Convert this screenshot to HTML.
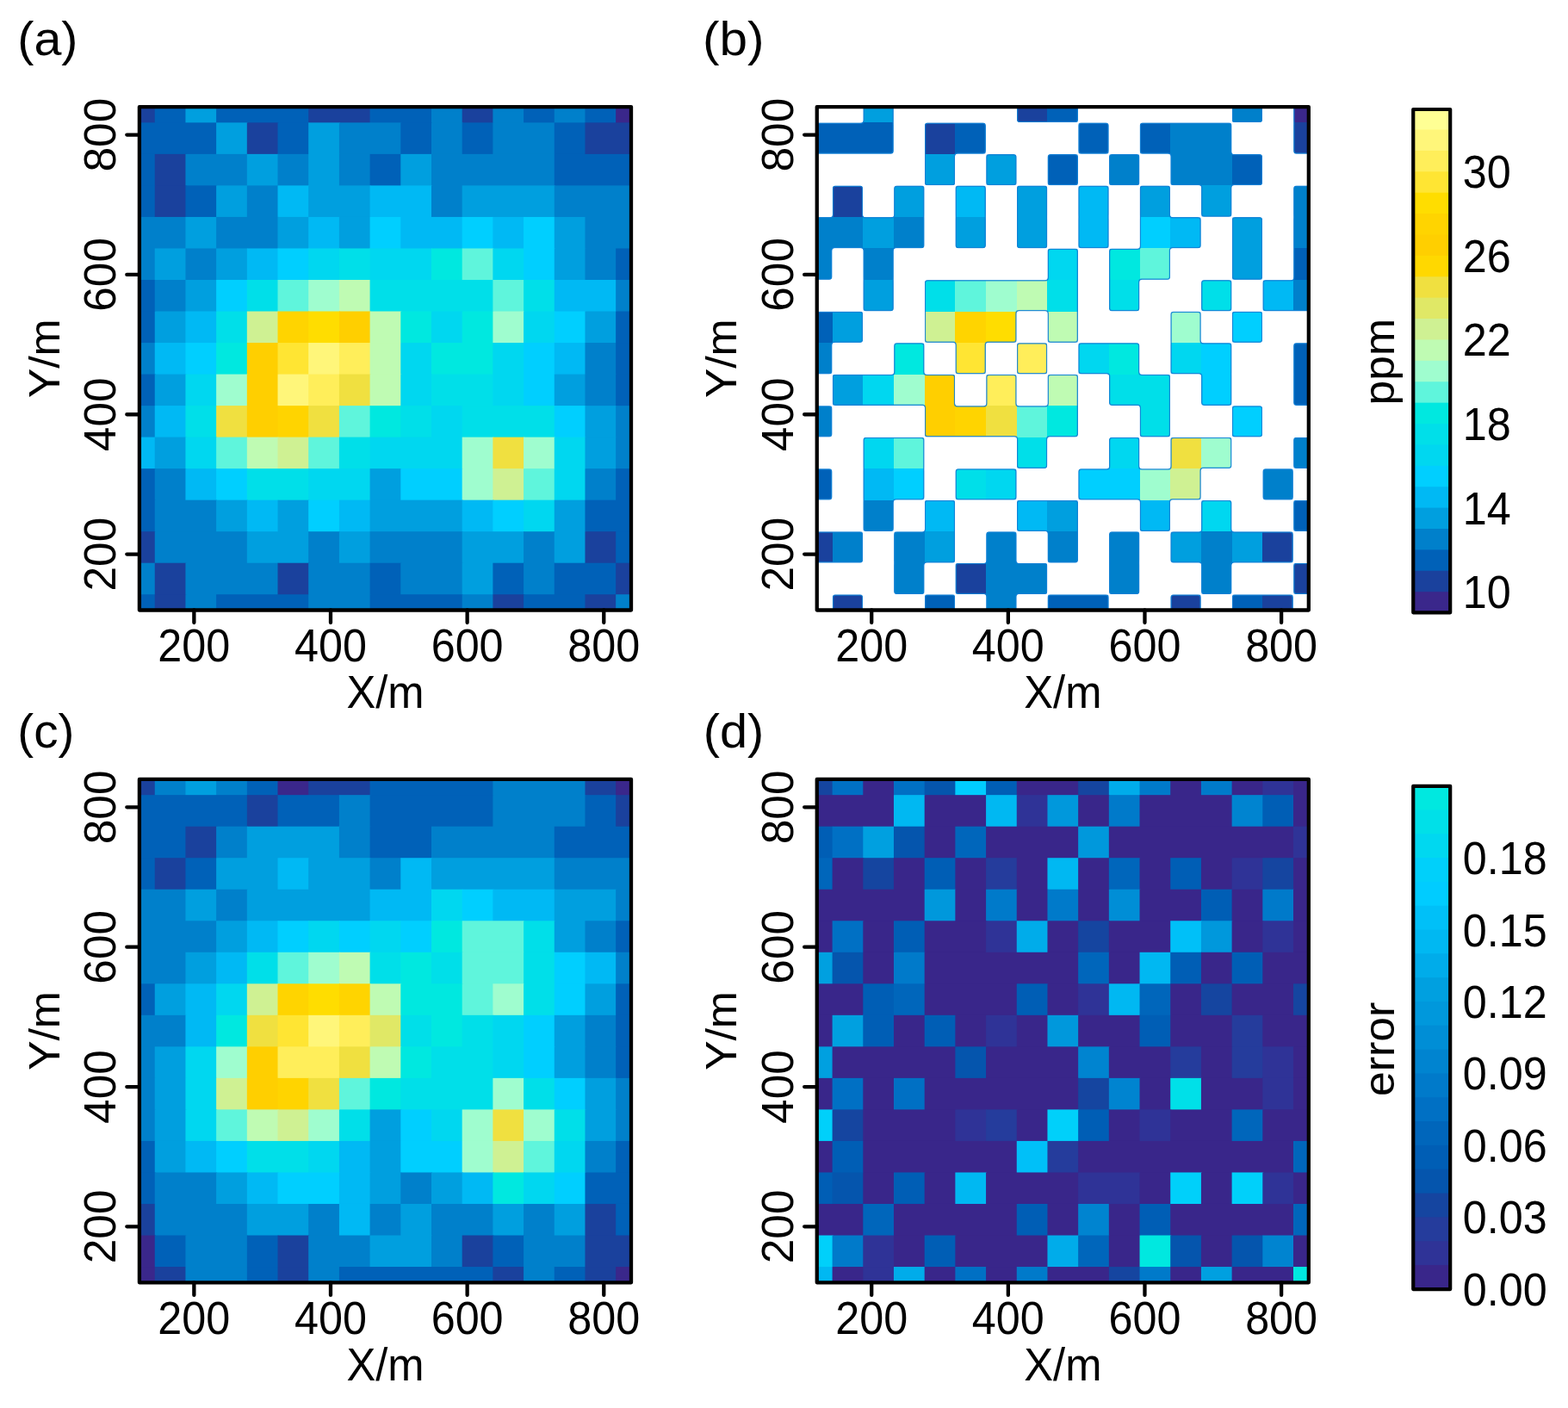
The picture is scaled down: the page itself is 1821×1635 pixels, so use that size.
<!DOCTYPE html>
<html lang="en">
<head>
<meta charset="utf-8">
<title>Interpolation comparison</title>
<style>
html,body{margin:0;padding:0;background:#fff;}
body{width:1821px;height:1635px;overflow:hidden;}
svg{display:block;}
svg text{font-family:"Liberation Sans", sans-serif;font-size:52px;fill:#000;}
</style>
</head>
<body>
<svg width="1821" height="1635" viewBox="0 0 1821 1635">
<rect width="1821" height="1635" fill="#fff"/>
<g id="panel-a"><g>
<rect x="161.9" y="124.1" width="18.85" height="19.26" fill="#1A419D"/>
<rect x="179.75" y="124.1" width="36.69" height="19.26" fill="#0061B8"/>
<rect x="215.44" y="124.1" width="36.69" height="19.26" fill="#009FDF"/>
<rect x="251.13" y="124.1" width="108.08" height="19.26" fill="#0061B8"/>
<rect x="358.22" y="124.1" width="72.39" height="19.26" fill="#1A419D"/>
<rect x="429.6" y="124.1" width="72.39" height="19.26" fill="#0061B8"/>
<rect x="500.99" y="124.1" width="36.69" height="19.26" fill="#0080CB"/>
<rect x="536.68" y="124.1" width="36.69" height="19.26" fill="#1A419D"/>
<rect x="572.38" y="124.1" width="36.69" height="19.26" fill="#0080CB"/>
<rect x="608.07" y="124.1" width="36.69" height="19.26" fill="#0061B8"/>
<rect x="643.77" y="124.1" width="36.69" height="19.26" fill="#0080CB"/>
<rect x="679.46" y="124.1" width="36.69" height="19.26" fill="#0061B8"/>
<rect x="715.15" y="124.1" width="18.85" height="19.26" fill="#3A278B"/>
<rect x="161.9" y="142.36" width="90.23" height="37.53" fill="#0061B8"/>
<rect x="251.13" y="142.36" width="36.69" height="37.53" fill="#009FDF"/>
<rect x="286.83" y="142.36" width="36.69" height="37.53" fill="#1A419D"/>
<rect x="322.52" y="142.36" width="36.69" height="37.53" fill="#0061B8"/>
<rect x="358.22" y="142.36" width="36.69" height="37.53" fill="#009FDF"/>
<rect x="393.91" y="142.36" width="72.39" height="37.53" fill="#0080CB"/>
<rect x="465.3" y="142.36" width="36.69" height="37.53" fill="#0061B8"/>
<rect x="500.99" y="142.36" width="36.69" height="37.53" fill="#0080CB"/>
<rect x="536.68" y="142.36" width="36.69" height="37.53" fill="#0061B8"/>
<rect x="572.38" y="142.36" width="72.39" height="37.53" fill="#0080CB"/>
<rect x="643.77" y="142.36" width="36.69" height="37.53" fill="#0061B8"/>
<rect x="679.46" y="142.36" width="54.54" height="37.53" fill="#1A419D"/>
<rect x="161.9" y="178.89" width="18.85" height="37.53" fill="#0061B8"/>
<rect x="179.75" y="178.89" width="36.69" height="37.53" fill="#1A419D"/>
<rect x="215.44" y="178.89" width="72.39" height="37.53" fill="#0080CB"/>
<rect x="286.83" y="178.89" width="36.69" height="37.53" fill="#009FDF"/>
<rect x="322.52" y="178.89" width="36.69" height="37.53" fill="#0080CB"/>
<rect x="358.22" y="178.89" width="36.69" height="37.53" fill="#009FDF"/>
<rect x="393.91" y="178.89" width="36.69" height="37.53" fill="#0080CB"/>
<rect x="429.6" y="178.89" width="36.69" height="37.53" fill="#0061B8"/>
<rect x="465.3" y="178.89" width="36.69" height="37.53" fill="#009FDF"/>
<rect x="500.99" y="178.89" width="143.77" height="37.53" fill="#0080CB"/>
<rect x="643.77" y="178.89" width="90.23" height="37.53" fill="#0061B8"/>
<rect x="161.9" y="215.41" width="18.85" height="37.53" fill="#0061B8"/>
<rect x="179.75" y="215.41" width="36.69" height="37.53" fill="#1A419D"/>
<rect x="215.44" y="215.41" width="36.69" height="37.53" fill="#0061B8"/>
<rect x="251.13" y="215.41" width="36.69" height="37.53" fill="#009FDF"/>
<rect x="286.83" y="215.41" width="36.69" height="37.53" fill="#0080CB"/>
<rect x="322.52" y="215.41" width="36.69" height="37.53" fill="#00B9F4"/>
<rect x="358.22" y="215.41" width="72.39" height="37.53" fill="#009FDF"/>
<rect x="429.6" y="215.41" width="72.39" height="37.53" fill="#00B9F4"/>
<rect x="500.99" y="215.41" width="36.69" height="37.53" fill="#0080CB"/>
<rect x="536.68" y="215.41" width="108.08" height="37.53" fill="#009FDF"/>
<rect x="643.77" y="215.41" width="90.23" height="37.53" fill="#0080CB"/>
<rect x="161.9" y="251.94" width="54.54" height="37.52" fill="#0080CB"/>
<rect x="215.44" y="251.94" width="36.69" height="37.52" fill="#009FDF"/>
<rect x="251.13" y="251.94" width="72.39" height="37.52" fill="#0080CB"/>
<rect x="322.52" y="251.94" width="36.69" height="37.52" fill="#009FDF"/>
<rect x="358.22" y="251.94" width="36.69" height="37.52" fill="#00B9F4"/>
<rect x="393.91" y="251.94" width="36.69" height="37.52" fill="#009FDF"/>
<rect x="429.6" y="251.94" width="36.69" height="37.52" fill="#00CFFF"/>
<rect x="465.3" y="251.94" width="72.39" height="37.52" fill="#00B9F4"/>
<rect x="536.68" y="251.94" width="36.69" height="37.52" fill="#00CFFF"/>
<rect x="572.38" y="251.94" width="36.69" height="37.52" fill="#00B9F4"/>
<rect x="608.07" y="251.94" width="36.69" height="37.52" fill="#00CFFF"/>
<rect x="643.77" y="251.94" width="36.69" height="37.52" fill="#009FDF"/>
<rect x="679.46" y="251.94" width="54.54" height="37.52" fill="#0080CB"/>
<rect x="161.9" y="288.46" width="18.85" height="37.52" fill="#0080CB"/>
<rect x="179.75" y="288.46" width="36.69" height="37.52" fill="#009FDF"/>
<rect x="215.44" y="288.46" width="36.69" height="37.52" fill="#0080CB"/>
<rect x="251.13" y="288.46" width="36.69" height="37.52" fill="#009FDF"/>
<rect x="286.83" y="288.46" width="36.69" height="37.52" fill="#00B9F4"/>
<rect x="322.52" y="288.46" width="36.69" height="37.52" fill="#00CFFF"/>
<rect x="358.22" y="288.46" width="36.69" height="37.52" fill="#00D7F0"/>
<rect x="393.91" y="288.46" width="36.69" height="37.52" fill="#00DFE9"/>
<rect x="429.6" y="288.46" width="72.39" height="37.52" fill="#00D7F0"/>
<rect x="500.99" y="288.46" width="36.69" height="37.52" fill="#00E8E0"/>
<rect x="536.68" y="288.46" width="36.69" height="37.52" fill="#5FF5DC"/>
<rect x="572.38" y="288.46" width="36.69" height="37.52" fill="#00D7F0"/>
<rect x="608.07" y="288.46" width="36.69" height="37.52" fill="#00CFFF"/>
<rect x="643.77" y="288.46" width="36.69" height="37.52" fill="#009FDF"/>
<rect x="679.46" y="288.46" width="36.69" height="37.52" fill="#0080CB"/>
<rect x="715.15" y="288.46" width="18.85" height="37.52" fill="#0061B8"/>
<rect x="161.9" y="324.99" width="18.85" height="37.53" fill="#0061B8"/>
<rect x="179.75" y="324.99" width="36.69" height="37.53" fill="#0080CB"/>
<rect x="215.44" y="324.99" width="36.69" height="37.53" fill="#009FDF"/>
<rect x="251.13" y="324.99" width="36.69" height="37.53" fill="#00CFFF"/>
<rect x="286.83" y="324.99" width="36.69" height="37.53" fill="#00DFE9"/>
<rect x="322.52" y="324.99" width="36.69" height="37.53" fill="#5FF5DC"/>
<rect x="358.22" y="324.99" width="36.69" height="37.53" fill="#9FFDCF"/>
<rect x="393.91" y="324.99" width="36.69" height="37.53" fill="#BFFBB3"/>
<rect x="429.6" y="324.99" width="143.77" height="37.53" fill="#00DFE9"/>
<rect x="572.38" y="324.99" width="36.69" height="37.53" fill="#5FF5DC"/>
<rect x="608.07" y="324.99" width="36.69" height="37.53" fill="#00DFE9"/>
<rect x="643.77" y="324.99" width="72.39" height="37.53" fill="#00B9F4"/>
<rect x="715.15" y="324.99" width="18.85" height="37.53" fill="#0080CB"/>
<rect x="161.9" y="361.51" width="18.85" height="37.53" fill="#0061B8"/>
<rect x="179.75" y="361.51" width="36.69" height="37.53" fill="#009FDF"/>
<rect x="215.44" y="361.51" width="36.69" height="37.53" fill="#00B9F4"/>
<rect x="251.13" y="361.51" width="36.69" height="37.53" fill="#00DFE9"/>
<rect x="286.83" y="361.51" width="36.69" height="37.53" fill="#CFF193"/>
<rect x="322.52" y="361.51" width="36.69" height="37.53" fill="#FFD400"/>
<rect x="358.22" y="361.51" width="36.69" height="37.53" fill="#FFDD00"/>
<rect x="393.91" y="361.51" width="36.69" height="37.53" fill="#FFCF00"/>
<rect x="429.6" y="361.51" width="36.69" height="37.53" fill="#BFFBB3"/>
<rect x="465.3" y="361.51" width="36.69" height="37.53" fill="#00E8E0"/>
<rect x="500.99" y="361.51" width="36.69" height="37.53" fill="#00D7F0"/>
<rect x="536.68" y="361.51" width="36.69" height="37.53" fill="#00E8E0"/>
<rect x="572.38" y="361.51" width="36.69" height="37.53" fill="#9FFDCF"/>
<rect x="608.07" y="361.51" width="36.69" height="37.53" fill="#00D7F0"/>
<rect x="643.77" y="361.51" width="36.69" height="37.53" fill="#00CFFF"/>
<rect x="679.46" y="361.51" width="36.69" height="37.53" fill="#009FDF"/>
<rect x="715.15" y="361.51" width="18.85" height="37.53" fill="#0061B8"/>
<rect x="161.9" y="398.04" width="18.85" height="37.52" fill="#0080CB"/>
<rect x="179.75" y="398.04" width="36.69" height="37.52" fill="#00B9F4"/>
<rect x="215.44" y="398.04" width="36.69" height="37.52" fill="#00CFFF"/>
<rect x="251.13" y="398.04" width="36.69" height="37.52" fill="#00E8E0"/>
<rect x="286.83" y="398.04" width="36.69" height="37.52" fill="#FFCF00"/>
<rect x="322.52" y="398.04" width="36.69" height="37.52" fill="#FFE533"/>
<rect x="358.22" y="398.04" width="36.69" height="37.52" fill="#FFF67A"/>
<rect x="393.91" y="398.04" width="36.69" height="37.52" fill="#FFEE5A"/>
<rect x="429.6" y="398.04" width="36.69" height="37.52" fill="#BFFBB3"/>
<rect x="465.3" y="398.04" width="36.69" height="37.52" fill="#00D7F0"/>
<rect x="500.99" y="398.04" width="72.39" height="37.52" fill="#00E8E0"/>
<rect x="572.38" y="398.04" width="36.69" height="37.52" fill="#00D7F0"/>
<rect x="608.07" y="398.04" width="36.69" height="37.52" fill="#00CFFF"/>
<rect x="643.77" y="398.04" width="36.69" height="37.52" fill="#00B9F4"/>
<rect x="679.46" y="398.04" width="36.69" height="37.52" fill="#0080CB"/>
<rect x="715.15" y="398.04" width="18.85" height="37.52" fill="#0061B8"/>
<rect x="161.9" y="434.56" width="18.85" height="37.52" fill="#0061B8"/>
<rect x="179.75" y="434.56" width="36.69" height="37.52" fill="#009FDF"/>
<rect x="215.44" y="434.56" width="36.69" height="37.52" fill="#00D7F0"/>
<rect x="251.13" y="434.56" width="36.69" height="37.52" fill="#9FFDCF"/>
<rect x="286.83" y="434.56" width="36.69" height="37.52" fill="#FFCF00"/>
<rect x="322.52" y="434.56" width="36.69" height="37.52" fill="#FFF67A"/>
<rect x="358.22" y="434.56" width="36.69" height="37.52" fill="#FFEE5A"/>
<rect x="393.91" y="434.56" width="36.69" height="37.52" fill="#F0E040"/>
<rect x="429.6" y="434.56" width="36.69" height="37.52" fill="#BFFBB3"/>
<rect x="465.3" y="434.56" width="36.69" height="37.52" fill="#00D7F0"/>
<rect x="500.99" y="434.56" width="72.39" height="37.52" fill="#00DFE9"/>
<rect x="572.38" y="434.56" width="36.69" height="37.52" fill="#00D7F0"/>
<rect x="608.07" y="434.56" width="36.69" height="37.52" fill="#00CFFF"/>
<rect x="643.77" y="434.56" width="36.69" height="37.52" fill="#009FDF"/>
<rect x="679.46" y="434.56" width="36.69" height="37.52" fill="#0080CB"/>
<rect x="715.15" y="434.56" width="18.85" height="37.52" fill="#0061B8"/>
<rect x="161.9" y="471.09" width="18.85" height="37.52" fill="#0080CB"/>
<rect x="179.75" y="471.09" width="36.69" height="37.52" fill="#00B9F4"/>
<rect x="215.44" y="471.09" width="36.69" height="37.52" fill="#00DFE9"/>
<rect x="251.13" y="471.09" width="36.69" height="37.52" fill="#F0E040"/>
<rect x="286.83" y="471.09" width="36.69" height="37.52" fill="#FFCF00"/>
<rect x="322.52" y="471.09" width="36.69" height="37.52" fill="#FFD400"/>
<rect x="358.22" y="471.09" width="36.69" height="37.52" fill="#F0E040"/>
<rect x="393.91" y="471.09" width="36.69" height="37.52" fill="#5FF5DC"/>
<rect x="429.6" y="471.09" width="36.69" height="37.52" fill="#00E8E0"/>
<rect x="465.3" y="471.09" width="36.69" height="37.52" fill="#00DFE9"/>
<rect x="500.99" y="471.09" width="36.69" height="37.52" fill="#00D7F0"/>
<rect x="536.68" y="471.09" width="108.08" height="37.52" fill="#00DFE9"/>
<rect x="643.77" y="471.09" width="36.69" height="37.52" fill="#00CFFF"/>
<rect x="679.46" y="471.09" width="36.69" height="37.52" fill="#009FDF"/>
<rect x="715.15" y="471.09" width="18.85" height="37.52" fill="#0080CB"/>
<rect x="161.9" y="507.61" width="18.85" height="37.52" fill="#00B9F4"/>
<rect x="179.75" y="507.61" width="36.69" height="37.52" fill="#009FDF"/>
<rect x="215.44" y="507.61" width="36.69" height="37.52" fill="#00D7F0"/>
<rect x="251.13" y="507.61" width="36.69" height="37.52" fill="#5FF5DC"/>
<rect x="286.83" y="507.61" width="36.69" height="37.52" fill="#BFFBB3"/>
<rect x="322.52" y="507.61" width="36.69" height="37.52" fill="#CFF193"/>
<rect x="358.22" y="507.61" width="36.69" height="37.52" fill="#5FF5DC"/>
<rect x="393.91" y="507.61" width="36.69" height="37.52" fill="#00DFE9"/>
<rect x="429.6" y="507.61" width="108.08" height="37.52" fill="#00D7F0"/>
<rect x="536.68" y="507.61" width="36.69" height="37.52" fill="#9FFDCF"/>
<rect x="572.38" y="507.61" width="36.69" height="37.52" fill="#F0E040"/>
<rect x="608.07" y="507.61" width="36.69" height="37.52" fill="#9FFDCF"/>
<rect x="643.77" y="507.61" width="36.69" height="37.52" fill="#00D7F0"/>
<rect x="679.46" y="507.61" width="36.69" height="37.52" fill="#009FDF"/>
<rect x="715.15" y="507.61" width="18.85" height="37.52" fill="#0080CB"/>
<rect x="161.9" y="544.14" width="18.85" height="37.53" fill="#0061B8"/>
<rect x="179.75" y="544.14" width="36.69" height="37.53" fill="#0080CB"/>
<rect x="215.44" y="544.14" width="36.69" height="37.53" fill="#00B9F4"/>
<rect x="251.13" y="544.14" width="36.69" height="37.53" fill="#00CFFF"/>
<rect x="286.83" y="544.14" width="72.39" height="37.53" fill="#00DFE9"/>
<rect x="358.22" y="544.14" width="72.39" height="37.53" fill="#00D7F0"/>
<rect x="429.6" y="544.14" width="36.69" height="37.53" fill="#009FDF"/>
<rect x="465.3" y="544.14" width="72.39" height="37.53" fill="#00CFFF"/>
<rect x="536.68" y="544.14" width="36.69" height="37.53" fill="#9FFDCF"/>
<rect x="572.38" y="544.14" width="36.69" height="37.53" fill="#CFF193"/>
<rect x="608.07" y="544.14" width="36.69" height="37.53" fill="#5FF5DC"/>
<rect x="643.77" y="544.14" width="36.69" height="37.53" fill="#00D7F0"/>
<rect x="679.46" y="544.14" width="36.69" height="37.53" fill="#0080CB"/>
<rect x="715.15" y="544.14" width="18.85" height="37.53" fill="#0061B8"/>
<rect x="161.9" y="580.66" width="18.85" height="37.52" fill="#0061B8"/>
<rect x="179.75" y="580.66" width="72.39" height="37.52" fill="#0080CB"/>
<rect x="251.13" y="580.66" width="36.69" height="37.52" fill="#009FDF"/>
<rect x="286.83" y="580.66" width="36.69" height="37.52" fill="#00B9F4"/>
<rect x="322.52" y="580.66" width="36.69" height="37.52" fill="#009FDF"/>
<rect x="358.22" y="580.66" width="36.69" height="37.52" fill="#00CFFF"/>
<rect x="393.91" y="580.66" width="36.69" height="37.52" fill="#00B9F4"/>
<rect x="429.6" y="580.66" width="108.08" height="37.52" fill="#009FDF"/>
<rect x="536.68" y="580.66" width="36.69" height="37.52" fill="#00B9F4"/>
<rect x="572.38" y="580.66" width="36.69" height="37.52" fill="#00CFFF"/>
<rect x="608.07" y="580.66" width="36.69" height="37.52" fill="#00D7F0"/>
<rect x="643.77" y="580.66" width="36.69" height="37.52" fill="#009FDF"/>
<rect x="679.46" y="580.66" width="54.54" height="37.52" fill="#0061B8"/>
<rect x="161.9" y="617.19" width="18.85" height="37.52" fill="#1A419D"/>
<rect x="179.75" y="617.19" width="108.08" height="37.52" fill="#0080CB"/>
<rect x="286.83" y="617.19" width="72.39" height="37.52" fill="#009FDF"/>
<rect x="358.22" y="617.19" width="36.69" height="37.52" fill="#0080CB"/>
<rect x="393.91" y="617.19" width="36.69" height="37.52" fill="#009FDF"/>
<rect x="429.6" y="617.19" width="108.08" height="37.52" fill="#0080CB"/>
<rect x="536.68" y="617.19" width="72.39" height="37.52" fill="#009FDF"/>
<rect x="608.07" y="617.19" width="36.69" height="37.52" fill="#0080CB"/>
<rect x="643.77" y="617.19" width="36.69" height="37.52" fill="#009FDF"/>
<rect x="679.46" y="617.19" width="36.69" height="37.52" fill="#1A419D"/>
<rect x="715.15" y="617.19" width="18.85" height="37.52" fill="#0061B8"/>
<rect x="161.9" y="653.71" width="18.85" height="37.52" fill="#0080CB"/>
<rect x="179.75" y="653.71" width="36.69" height="37.52" fill="#1A419D"/>
<rect x="215.44" y="653.71" width="108.08" height="37.52" fill="#0080CB"/>
<rect x="322.52" y="653.71" width="36.69" height="37.52" fill="#1A419D"/>
<rect x="358.22" y="653.71" width="72.39" height="37.52" fill="#0080CB"/>
<rect x="429.6" y="653.71" width="36.69" height="37.52" fill="#0061B8"/>
<rect x="465.3" y="653.71" width="72.39" height="37.52" fill="#0080CB"/>
<rect x="536.68" y="653.71" width="36.69" height="37.52" fill="#009FDF"/>
<rect x="572.38" y="653.71" width="36.69" height="37.52" fill="#0061B8"/>
<rect x="608.07" y="653.71" width="36.69" height="37.52" fill="#0080CB"/>
<rect x="643.77" y="653.71" width="72.39" height="37.52" fill="#0061B8"/>
<rect x="715.15" y="653.71" width="18.85" height="37.52" fill="#1A419D"/>
<rect x="161.9" y="690.24" width="18.85" height="19.26" fill="#0061B8"/>
<rect x="179.75" y="690.24" width="36.69" height="19.26" fill="#1A419D"/>
<rect x="215.44" y="690.24" width="36.69" height="19.26" fill="#0080CB"/>
<rect x="251.13" y="690.24" width="108.08" height="19.26" fill="#0061B8"/>
<rect x="358.22" y="690.24" width="72.39" height="19.26" fill="#0080CB"/>
<rect x="429.6" y="690.24" width="108.08" height="19.26" fill="#0061B8"/>
<rect x="536.68" y="690.24" width="36.69" height="19.26" fill="#0080CB"/>
<rect x="572.38" y="690.24" width="36.69" height="19.26" fill="#1A419D"/>
<rect x="608.07" y="690.24" width="72.39" height="19.26" fill="#0061B8"/>
<rect x="679.46" y="690.24" width="36.69" height="19.26" fill="#1A419D"/>
<rect x="715.15" y="690.24" width="18.85" height="19.26" fill="#0080CB"/>
</g>
<path d="M225.36 708.5 v14.6 M383.99 708.5 v14.6 M542.63 708.5 v14.6 M701.27 708.5 v14.6 M161.9 643.57 h-14.6 M161.9 481.23 h-14.6 M161.9 318.9 h-14.6 M161.9 156.57 h-14.6" stroke="#000" stroke-width="4.3" stroke-linecap="round" fill="none"/>
<rect x="161.9" y="124.1" width="571.1" height="584.4" fill="none" stroke="#000" stroke-width="4.3" stroke-linejoin="round"/>
<text transform="translate(225.36 768.1) scale(0.968 1.045)" text-anchor="middle">200</text>
<text transform="translate(383.99 768.1) scale(0.968 1.045)" text-anchor="middle">400</text>
<text transform="translate(542.63 768.1) scale(0.968 1.045)" text-anchor="middle">600</text>
<text transform="translate(701.27 768.1) scale(0.968 1.045)" text-anchor="middle">800</text>
<text transform="translate(133.9 643.57) rotate(-90) scale(0.990 1.000)" text-anchor="middle">200</text>
<text transform="translate(133.9 481.23) rotate(-90) scale(0.990 1.000)" text-anchor="middle">400</text>
<text transform="translate(133.9 318.9) rotate(-90) scale(0.990 1.000)" text-anchor="middle">600</text>
<text transform="translate(133.9 156.57) rotate(-90) scale(0.990 1.000)" text-anchor="middle">800</text>
<text transform="translate(447.45 822.1) scale(0.975 1.030)" text-anchor="middle">X/m</text>
<text transform="translate(68.5 416.3) rotate(-90) scale(0.995 0.965)" text-anchor="middle">Y/m</text></g>
<g id="panel-b"><g shape-rendering="crispEdges">
<rect x="1002.29" y="124.1" width="36.09" height="18.66" fill="#009FDF"/>
<rect x="1180.76" y="124.1" width="36.09" height="18.66" fill="#1A419D"/>
<rect x="1216.45" y="124.1" width="36.09" height="18.66" fill="#0061B8"/>
<rect x="1430.62" y="124.1" width="36.09" height="18.66" fill="#0080CB"/>
<rect x="1502" y="124.1" width="18.25" height="18.66" fill="#3A278B"/>
<rect x="948.75" y="142.36" width="89.63" height="36.93" fill="#0061B8"/>
<rect x="1073.68" y="142.36" width="36.09" height="36.93" fill="#1A419D"/>
<rect x="1109.37" y="142.36" width="36.09" height="36.93" fill="#0061B8"/>
<rect x="1252.15" y="142.36" width="36.09" height="36.93" fill="#0061B8"/>
<rect x="1323.53" y="142.36" width="36.09" height="36.93" fill="#0061B8"/>
<rect x="1359.23" y="142.36" width="71.79" height="36.93" fill="#0080CB"/>
<rect x="1502" y="142.36" width="18.25" height="36.93" fill="#1A419D"/>
<rect x="1073.68" y="178.89" width="36.09" height="36.93" fill="#009FDF"/>
<rect x="1145.07" y="178.89" width="36.09" height="36.93" fill="#009FDF"/>
<rect x="1216.45" y="178.89" width="36.09" height="36.93" fill="#0061B8"/>
<rect x="1287.84" y="178.89" width="36.09" height="36.93" fill="#0080CB"/>
<rect x="1359.23" y="178.89" width="71.79" height="36.93" fill="#0080CB"/>
<rect x="1430.62" y="178.89" width="36.09" height="36.93" fill="#0061B8"/>
<rect x="966.6" y="215.41" width="36.09" height="36.93" fill="#1A419D"/>
<rect x="1037.98" y="215.41" width="36.09" height="36.93" fill="#009FDF"/>
<rect x="1109.37" y="215.41" width="36.09" height="36.93" fill="#00B9F4"/>
<rect x="1180.76" y="215.41" width="36.09" height="36.93" fill="#009FDF"/>
<rect x="1252.15" y="215.41" width="36.09" height="36.93" fill="#00B9F4"/>
<rect x="1323.53" y="215.41" width="36.09" height="36.93" fill="#009FDF"/>
<rect x="1394.92" y="215.41" width="36.09" height="36.93" fill="#009FDF"/>
<rect x="1502" y="215.41" width="18.25" height="36.93" fill="#0080CB"/>
<rect x="948.75" y="251.94" width="53.94" height="36.92" fill="#0080CB"/>
<rect x="1002.29" y="251.94" width="36.09" height="36.92" fill="#009FDF"/>
<rect x="1037.98" y="251.94" width="36.09" height="36.92" fill="#0080CB"/>
<rect x="1109.37" y="251.94" width="36.09" height="36.92" fill="#009FDF"/>
<rect x="1180.76" y="251.94" width="36.09" height="36.92" fill="#009FDF"/>
<rect x="1252.15" y="251.94" width="36.09" height="36.92" fill="#00B9F4"/>
<rect x="1323.53" y="251.94" width="36.09" height="36.92" fill="#00CFFF"/>
<rect x="1359.23" y="251.94" width="36.09" height="36.92" fill="#00B9F4"/>
<rect x="1430.62" y="251.94" width="36.09" height="36.92" fill="#009FDF"/>
<rect x="1502" y="251.94" width="18.25" height="36.92" fill="#0080CB"/>
<rect x="948.75" y="288.46" width="18.25" height="36.92" fill="#0080CB"/>
<rect x="1002.29" y="288.46" width="36.09" height="36.92" fill="#0080CB"/>
<rect x="1216.45" y="288.46" width="36.09" height="36.92" fill="#00D7F0"/>
<rect x="1287.84" y="288.46" width="36.09" height="36.92" fill="#00E8E0"/>
<rect x="1323.53" y="288.46" width="36.09" height="36.92" fill="#5FF5DC"/>
<rect x="1430.62" y="288.46" width="36.09" height="36.92" fill="#009FDF"/>
<rect x="1502" y="288.46" width="18.25" height="36.92" fill="#0061B8"/>
<rect x="1002.29" y="324.99" width="36.09" height="36.93" fill="#009FDF"/>
<rect x="1073.68" y="324.99" width="36.09" height="36.93" fill="#00DFE9"/>
<rect x="1109.37" y="324.99" width="36.09" height="36.93" fill="#5FF5DC"/>
<rect x="1145.07" y="324.99" width="36.09" height="36.93" fill="#9FFDCF"/>
<rect x="1180.76" y="324.99" width="36.09" height="36.93" fill="#BFFBB3"/>
<rect x="1216.45" y="324.99" width="36.09" height="36.93" fill="#00DFE9"/>
<rect x="1287.84" y="324.99" width="36.09" height="36.93" fill="#00DFE9"/>
<rect x="1394.92" y="324.99" width="36.09" height="36.93" fill="#00DFE9"/>
<rect x="1466.31" y="324.99" width="36.09" height="36.93" fill="#00B9F4"/>
<rect x="1502" y="324.99" width="18.25" height="36.93" fill="#0080CB"/>
<rect x="948.75" y="361.51" width="18.25" height="36.93" fill="#0061B8"/>
<rect x="966.6" y="361.51" width="36.09" height="36.93" fill="#009FDF"/>
<rect x="1073.68" y="361.51" width="36.09" height="36.93" fill="#CFF193"/>
<rect x="1109.37" y="361.51" width="36.09" height="36.93" fill="#FFD400"/>
<rect x="1145.07" y="361.51" width="36.09" height="36.93" fill="#FFDD00"/>
<rect x="1216.45" y="361.51" width="36.09" height="36.93" fill="#BFFBB3"/>
<rect x="1359.23" y="361.51" width="36.09" height="36.93" fill="#9FFDCF"/>
<rect x="1430.62" y="361.51" width="36.09" height="36.93" fill="#00CFFF"/>
<rect x="948.75" y="398.04" width="18.25" height="36.92" fill="#0080CB"/>
<rect x="1037.98" y="398.04" width="36.09" height="36.92" fill="#00E8E0"/>
<rect x="1109.37" y="398.04" width="36.09" height="36.92" fill="#FFE533"/>
<rect x="1180.76" y="398.04" width="36.09" height="36.92" fill="#FFEE5A"/>
<rect x="1252.15" y="398.04" width="36.09" height="36.92" fill="#00D7F0"/>
<rect x="1287.84" y="398.04" width="36.09" height="36.92" fill="#00E8E0"/>
<rect x="1359.23" y="398.04" width="36.09" height="36.92" fill="#00D7F0"/>
<rect x="1394.92" y="398.04" width="36.09" height="36.92" fill="#00CFFF"/>
<rect x="1502" y="398.04" width="18.25" height="36.92" fill="#0061B8"/>
<rect x="966.6" y="434.56" width="36.09" height="36.92" fill="#009FDF"/>
<rect x="1002.29" y="434.56" width="36.09" height="36.92" fill="#00D7F0"/>
<rect x="1037.98" y="434.56" width="36.09" height="36.92" fill="#9FFDCF"/>
<rect x="1073.68" y="434.56" width="36.09" height="36.92" fill="#FFCF00"/>
<rect x="1145.07" y="434.56" width="36.09" height="36.92" fill="#FFEE5A"/>
<rect x="1216.45" y="434.56" width="36.09" height="36.92" fill="#BFFBB3"/>
<rect x="1287.84" y="434.56" width="71.79" height="36.92" fill="#00DFE9"/>
<rect x="1394.92" y="434.56" width="36.09" height="36.92" fill="#00CFFF"/>
<rect x="1502" y="434.56" width="18.25" height="36.92" fill="#0061B8"/>
<rect x="948.75" y="471.09" width="18.25" height="36.92" fill="#0080CB"/>
<rect x="1073.68" y="471.09" width="36.09" height="36.92" fill="#FFCF00"/>
<rect x="1109.37" y="471.09" width="36.09" height="36.92" fill="#FFD400"/>
<rect x="1145.07" y="471.09" width="36.09" height="36.92" fill="#F0E040"/>
<rect x="1180.76" y="471.09" width="36.09" height="36.92" fill="#5FF5DC"/>
<rect x="1216.45" y="471.09" width="36.09" height="36.92" fill="#00E8E0"/>
<rect x="1323.53" y="471.09" width="36.09" height="36.92" fill="#00DFE9"/>
<rect x="1430.62" y="471.09" width="36.09" height="36.92" fill="#00CFFF"/>
<rect x="1002.29" y="507.61" width="36.09" height="36.92" fill="#00D7F0"/>
<rect x="1037.98" y="507.61" width="36.09" height="36.92" fill="#5FF5DC"/>
<rect x="1180.76" y="507.61" width="36.09" height="36.92" fill="#00DFE9"/>
<rect x="1287.84" y="507.61" width="36.09" height="36.92" fill="#00D7F0"/>
<rect x="1359.23" y="507.61" width="36.09" height="36.92" fill="#F0E040"/>
<rect x="1394.92" y="507.61" width="36.09" height="36.92" fill="#9FFDCF"/>
<rect x="1502" y="507.61" width="18.25" height="36.92" fill="#0080CB"/>
<rect x="948.75" y="544.14" width="18.25" height="36.93" fill="#0061B8"/>
<rect x="1002.29" y="544.14" width="36.09" height="36.93" fill="#00B9F4"/>
<rect x="1037.98" y="544.14" width="36.09" height="36.93" fill="#00CFFF"/>
<rect x="1109.37" y="544.14" width="36.09" height="36.93" fill="#00DFE9"/>
<rect x="1145.07" y="544.14" width="36.09" height="36.93" fill="#00D7F0"/>
<rect x="1252.15" y="544.14" width="71.79" height="36.93" fill="#00CFFF"/>
<rect x="1323.53" y="544.14" width="36.09" height="36.93" fill="#9FFDCF"/>
<rect x="1359.23" y="544.14" width="36.09" height="36.93" fill="#CFF193"/>
<rect x="1466.31" y="544.14" width="36.09" height="36.93" fill="#0080CB"/>
<rect x="1002.29" y="580.66" width="36.09" height="36.92" fill="#0080CB"/>
<rect x="1073.68" y="580.66" width="36.09" height="36.92" fill="#00B9F4"/>
<rect x="1180.76" y="580.66" width="36.09" height="36.92" fill="#00B9F4"/>
<rect x="1216.45" y="580.66" width="36.09" height="36.92" fill="#009FDF"/>
<rect x="1323.53" y="580.66" width="36.09" height="36.92" fill="#00B9F4"/>
<rect x="1394.92" y="580.66" width="36.09" height="36.92" fill="#00D7F0"/>
<rect x="1502" y="580.66" width="18.25" height="36.92" fill="#0061B8"/>
<rect x="948.75" y="617.19" width="18.25" height="36.92" fill="#1A419D"/>
<rect x="966.6" y="617.19" width="36.09" height="36.92" fill="#0080CB"/>
<rect x="1037.98" y="617.19" width="36.09" height="36.92" fill="#0080CB"/>
<rect x="1073.68" y="617.19" width="36.09" height="36.92" fill="#009FDF"/>
<rect x="1145.07" y="617.19" width="36.09" height="36.92" fill="#0080CB"/>
<rect x="1216.45" y="617.19" width="36.09" height="36.92" fill="#0080CB"/>
<rect x="1287.84" y="617.19" width="36.09" height="36.92" fill="#0080CB"/>
<rect x="1359.23" y="617.19" width="36.09" height="36.92" fill="#009FDF"/>
<rect x="1394.92" y="617.19" width="36.09" height="36.92" fill="#0080CB"/>
<rect x="1430.62" y="617.19" width="36.09" height="36.92" fill="#009FDF"/>
<rect x="1466.31" y="617.19" width="36.09" height="36.92" fill="#1A419D"/>
<rect x="1037.98" y="653.71" width="36.09" height="36.92" fill="#0080CB"/>
<rect x="1109.37" y="653.71" width="36.09" height="36.92" fill="#1A419D"/>
<rect x="1145.07" y="653.71" width="71.79" height="36.92" fill="#0080CB"/>
<rect x="1287.84" y="653.71" width="36.09" height="36.92" fill="#0080CB"/>
<rect x="1394.92" y="653.71" width="36.09" height="36.92" fill="#0080CB"/>
<rect x="1502" y="653.71" width="18.25" height="36.92" fill="#1A419D"/>
<rect x="966.6" y="690.24" width="36.09" height="18.66" fill="#1A419D"/>
<rect x="1073.68" y="690.24" width="36.09" height="18.66" fill="#0061B8"/>
<rect x="1145.07" y="690.24" width="36.09" height="18.66" fill="#0080CB"/>
<rect x="1216.45" y="690.24" width="71.79" height="18.66" fill="#0061B8"/>
<rect x="1359.23" y="690.24" width="36.09" height="18.66" fill="#1A419D"/>
<rect x="1430.62" y="690.24" width="36.09" height="18.66" fill="#0061B8"/>
<rect x="1466.31" y="690.24" width="36.09" height="18.66" fill="#1A419D"/>
</g>
<defs>
<clipPath id="naClip"><rect x="948.75" y="124.1" width="571.1" height="584.4"/></clipPath>
<filter id="naLine" filterUnits="userSpaceOnUse" x="928.75" y="104.1" width="611.1" height="624.4" color-interpolation-filters="sRGB"><feGaussianBlur in="SourceAlpha" stdDeviation="1.4"/><feComponentTransfer result="m"><feFuncA type="linear" slope="5" intercept="-0.600"/></feComponentTransfer><feFlood flood-color="#1080D6"/><feComposite in2="m" operator="in"/></filter>
<filter id="naFill" filterUnits="userSpaceOnUse" x="928.75" y="104.1" width="611.1" height="624.4" color-interpolation-filters="sRGB"><feGaussianBlur in="SourceAlpha" stdDeviation="1.4"/><feComponentTransfer result="m"><feFuncA type="linear" slope="5" intercept="-2.100"/></feComponentTransfer><feFlood flood-color="#fff"/><feComposite in2="m" operator="in"/></filter>
</defs>
<g clip-path="url(#naClip)"><g filter="url(#naLine)" opacity="0.9"><rect x="940.75" y="116.1" width="61.84" height="26.56"/><rect x="1037.68" y="116.1" width="143.38" height="26.56"/><rect x="1251.85" y="116.1" width="179.07" height="26.56"/><rect x="1466.01" y="116.1" width="36.29" height="26.56"/><rect x="1037.68" y="142.06" width="36.29" height="37.13"/><rect x="1144.77" y="142.06" width="107.68" height="37.13"/><rect x="1287.54" y="142.06" width="36.29" height="37.13"/><rect x="1430.32" y="142.06" width="71.99" height="37.13"/><rect x="940.75" y="178.59" width="133.23" height="37.13"/><rect x="1109.07" y="178.59" width="36.29" height="37.13"/><rect x="1180.46" y="178.59" width="36.29" height="37.13"/><rect x="1251.85" y="178.59" width="36.29" height="37.13"/><rect x="1323.23" y="178.59" width="36.29" height="37.13"/><rect x="1466.01" y="178.59" width="61.84" height="37.13"/><rect x="940.75" y="215.11" width="26.15" height="37.13"/><rect x="1001.99" y="215.11" width="36.29" height="37.13"/><rect x="1073.38" y="215.11" width="36.29" height="37.13"/><rect x="1144.77" y="215.11" width="36.29" height="37.13"/><rect x="1216.15" y="215.11" width="36.29" height="37.13"/><rect x="1287.54" y="215.11" width="36.29" height="37.13"/><rect x="1358.93" y="215.11" width="36.29" height="37.13"/><rect x="1430.32" y="215.11" width="71.99" height="37.13"/><rect x="1073.38" y="251.64" width="36.29" height="37.12"/><rect x="1144.77" y="251.64" width="36.29" height="37.12"/><rect x="1216.15" y="251.64" width="36.29" height="37.12"/><rect x="1287.54" y="251.64" width="36.29" height="37.12"/><rect x="1394.62" y="251.64" width="36.29" height="37.12"/><rect x="1466.01" y="251.64" width="36.29" height="37.12"/><rect x="966.3" y="288.16" width="36.29" height="37.12"/><rect x="1037.68" y="288.16" width="179.07" height="37.12"/><rect x="1251.85" y="288.16" width="36.29" height="37.12"/><rect x="1358.93" y="288.16" width="71.99" height="37.12"/><rect x="1466.01" y="288.16" width="36.29" height="37.12"/><rect x="940.75" y="324.69" width="61.84" height="37.13"/><rect x="1037.68" y="324.69" width="36.29" height="37.13"/><rect x="1251.85" y="324.69" width="36.29" height="37.13"/><rect x="1323.23" y="324.69" width="71.99" height="37.13"/><rect x="1430.32" y="324.69" width="36.29" height="37.13"/><rect x="1001.99" y="361.21" width="71.99" height="37.13"/><rect x="1180.46" y="361.21" width="36.29" height="37.13"/><rect x="1251.85" y="361.21" width="107.68" height="37.13"/><rect x="1394.62" y="361.21" width="36.29" height="37.13"/><rect x="1466.01" y="361.21" width="61.84" height="37.13"/><rect x="966.3" y="397.74" width="71.99" height="37.12"/><rect x="1073.38" y="397.74" width="36.29" height="37.12"/><rect x="1144.77" y="397.74" width="36.29" height="37.12"/><rect x="1216.15" y="397.74" width="36.29" height="37.12"/><rect x="1323.23" y="397.74" width="36.29" height="37.12"/><rect x="1430.32" y="397.74" width="71.99" height="37.12"/><rect x="940.75" y="434.26" width="26.15" height="37.12"/><rect x="1109.07" y="434.26" width="36.29" height="37.12"/><rect x="1180.46" y="434.26" width="36.29" height="37.12"/><rect x="1251.85" y="434.26" width="36.29" height="37.12"/><rect x="1358.93" y="434.26" width="36.29" height="37.12"/><rect x="1430.32" y="434.26" width="71.99" height="37.12"/><rect x="966.3" y="470.79" width="107.68" height="37.12"/><rect x="1251.85" y="470.79" width="71.99" height="37.12"/><rect x="1358.93" y="470.79" width="71.99" height="37.12"/><rect x="1466.01" y="470.79" width="61.84" height="37.12"/><rect x="940.75" y="507.31" width="61.84" height="37.12"/><rect x="1073.38" y="507.31" width="107.68" height="37.12"/><rect x="1216.15" y="507.31" width="71.99" height="37.12"/><rect x="1323.23" y="507.31" width="36.29" height="37.12"/><rect x="1430.32" y="507.31" width="71.99" height="37.12"/><rect x="966.3" y="543.84" width="36.29" height="37.12"/><rect x="1073.38" y="543.84" width="36.29" height="37.12"/><rect x="1180.46" y="543.84" width="71.99" height="37.12"/><rect x="1394.62" y="543.84" width="71.99" height="37.12"/><rect x="1501.7" y="543.84" width="26.15" height="37.12"/><rect x="940.75" y="580.36" width="61.84" height="37.12"/><rect x="1037.68" y="580.36" width="36.29" height="37.12"/><rect x="1109.07" y="580.36" width="71.99" height="37.12"/><rect x="1251.85" y="580.36" width="71.99" height="37.12"/><rect x="1358.93" y="580.36" width="36.29" height="37.12"/><rect x="1430.32" y="580.36" width="71.99" height="37.12"/><rect x="1001.99" y="616.89" width="36.29" height="37.12"/><rect x="1109.07" y="616.89" width="36.29" height="37.12"/><rect x="1180.46" y="616.89" width="36.29" height="37.12"/><rect x="1251.85" y="616.89" width="36.29" height="37.12"/><rect x="1323.23" y="616.89" width="36.29" height="37.12"/><rect x="1501.7" y="616.89" width="26.15" height="37.12"/><rect x="940.75" y="653.41" width="97.53" height="37.12"/><rect x="1073.38" y="653.41" width="36.29" height="37.12"/><rect x="1216.15" y="653.41" width="71.99" height="37.12"/><rect x="1323.23" y="653.41" width="71.99" height="37.12"/><rect x="1430.32" y="653.41" width="71.99" height="37.12"/><rect x="940.75" y="689.94" width="26.15" height="26.56"/><rect x="1001.99" y="689.94" width="71.99" height="26.56"/><rect x="1109.07" y="689.94" width="36.29" height="26.56"/><rect x="1180.46" y="689.94" width="36.29" height="26.56"/><rect x="1287.54" y="689.94" width="71.99" height="26.56"/><rect x="1394.62" y="689.94" width="36.29" height="26.56"/><rect x="1501.7" y="689.94" width="26.15" height="26.56"/></g><g filter="url(#naFill)"><rect x="940.75" y="116.1" width="61.84" height="26.56"/><rect x="1037.68" y="116.1" width="143.38" height="26.56"/><rect x="1251.85" y="116.1" width="179.07" height="26.56"/><rect x="1466.01" y="116.1" width="36.29" height="26.56"/><rect x="1037.68" y="142.06" width="36.29" height="37.13"/><rect x="1144.77" y="142.06" width="107.68" height="37.13"/><rect x="1287.54" y="142.06" width="36.29" height="37.13"/><rect x="1430.32" y="142.06" width="71.99" height="37.13"/><rect x="940.75" y="178.59" width="133.23" height="37.13"/><rect x="1109.07" y="178.59" width="36.29" height="37.13"/><rect x="1180.46" y="178.59" width="36.29" height="37.13"/><rect x="1251.85" y="178.59" width="36.29" height="37.13"/><rect x="1323.23" y="178.59" width="36.29" height="37.13"/><rect x="1466.01" y="178.59" width="61.84" height="37.13"/><rect x="940.75" y="215.11" width="26.15" height="37.13"/><rect x="1001.99" y="215.11" width="36.29" height="37.13"/><rect x="1073.38" y="215.11" width="36.29" height="37.13"/><rect x="1144.77" y="215.11" width="36.29" height="37.13"/><rect x="1216.15" y="215.11" width="36.29" height="37.13"/><rect x="1287.54" y="215.11" width="36.29" height="37.13"/><rect x="1358.93" y="215.11" width="36.29" height="37.13"/><rect x="1430.32" y="215.11" width="71.99" height="37.13"/><rect x="1073.38" y="251.64" width="36.29" height="37.12"/><rect x="1144.77" y="251.64" width="36.29" height="37.12"/><rect x="1216.15" y="251.64" width="36.29" height="37.12"/><rect x="1287.54" y="251.64" width="36.29" height="37.12"/><rect x="1394.62" y="251.64" width="36.29" height="37.12"/><rect x="1466.01" y="251.64" width="36.29" height="37.12"/><rect x="966.3" y="288.16" width="36.29" height="37.12"/><rect x="1037.68" y="288.16" width="179.07" height="37.12"/><rect x="1251.85" y="288.16" width="36.29" height="37.12"/><rect x="1358.93" y="288.16" width="71.99" height="37.12"/><rect x="1466.01" y="288.16" width="36.29" height="37.12"/><rect x="940.75" y="324.69" width="61.84" height="37.13"/><rect x="1037.68" y="324.69" width="36.29" height="37.13"/><rect x="1251.85" y="324.69" width="36.29" height="37.13"/><rect x="1323.23" y="324.69" width="71.99" height="37.13"/><rect x="1430.32" y="324.69" width="36.29" height="37.13"/><rect x="1001.99" y="361.21" width="71.99" height="37.13"/><rect x="1180.46" y="361.21" width="36.29" height="37.13"/><rect x="1251.85" y="361.21" width="107.68" height="37.13"/><rect x="1394.62" y="361.21" width="36.29" height="37.13"/><rect x="1466.01" y="361.21" width="61.84" height="37.13"/><rect x="966.3" y="397.74" width="71.99" height="37.12"/><rect x="1073.38" y="397.74" width="36.29" height="37.12"/><rect x="1144.77" y="397.74" width="36.29" height="37.12"/><rect x="1216.15" y="397.74" width="36.29" height="37.12"/><rect x="1323.23" y="397.74" width="36.29" height="37.12"/><rect x="1430.32" y="397.74" width="71.99" height="37.12"/><rect x="940.75" y="434.26" width="26.15" height="37.12"/><rect x="1109.07" y="434.26" width="36.29" height="37.12"/><rect x="1180.46" y="434.26" width="36.29" height="37.12"/><rect x="1251.85" y="434.26" width="36.29" height="37.12"/><rect x="1358.93" y="434.26" width="36.29" height="37.12"/><rect x="1430.32" y="434.26" width="71.99" height="37.12"/><rect x="966.3" y="470.79" width="107.68" height="37.12"/><rect x="1251.85" y="470.79" width="71.99" height="37.12"/><rect x="1358.93" y="470.79" width="71.99" height="37.12"/><rect x="1466.01" y="470.79" width="61.84" height="37.12"/><rect x="940.75" y="507.31" width="61.84" height="37.12"/><rect x="1073.38" y="507.31" width="107.68" height="37.12"/><rect x="1216.15" y="507.31" width="71.99" height="37.12"/><rect x="1323.23" y="507.31" width="36.29" height="37.12"/><rect x="1430.32" y="507.31" width="71.99" height="37.12"/><rect x="966.3" y="543.84" width="36.29" height="37.12"/><rect x="1073.38" y="543.84" width="36.29" height="37.12"/><rect x="1180.46" y="543.84" width="71.99" height="37.12"/><rect x="1394.62" y="543.84" width="71.99" height="37.12"/><rect x="1501.7" y="543.84" width="26.15" height="37.12"/><rect x="940.75" y="580.36" width="61.84" height="37.12"/><rect x="1037.68" y="580.36" width="36.29" height="37.12"/><rect x="1109.07" y="580.36" width="71.99" height="37.12"/><rect x="1251.85" y="580.36" width="71.99" height="37.12"/><rect x="1358.93" y="580.36" width="36.29" height="37.12"/><rect x="1430.32" y="580.36" width="71.99" height="37.12"/><rect x="1001.99" y="616.89" width="36.29" height="37.12"/><rect x="1109.07" y="616.89" width="36.29" height="37.12"/><rect x="1180.46" y="616.89" width="36.29" height="37.12"/><rect x="1251.85" y="616.89" width="36.29" height="37.12"/><rect x="1323.23" y="616.89" width="36.29" height="37.12"/><rect x="1501.7" y="616.89" width="26.15" height="37.12"/><rect x="940.75" y="653.41" width="97.53" height="37.12"/><rect x="1073.38" y="653.41" width="36.29" height="37.12"/><rect x="1216.15" y="653.41" width="71.99" height="37.12"/><rect x="1323.23" y="653.41" width="71.99" height="37.12"/><rect x="1430.32" y="653.41" width="71.99" height="37.12"/><rect x="940.75" y="689.94" width="26.15" height="26.56"/><rect x="1001.99" y="689.94" width="71.99" height="26.56"/><rect x="1109.07" y="689.94" width="36.29" height="26.56"/><rect x="1180.46" y="689.94" width="36.29" height="26.56"/><rect x="1287.54" y="689.94" width="71.99" height="26.56"/><rect x="1394.62" y="689.94" width="36.29" height="26.56"/><rect x="1501.7" y="689.94" width="26.15" height="26.56"/></g></g>
<path d="M1012.21 708.5 v14.6 M1170.84 708.5 v14.6 M1329.48 708.5 v14.6 M1488.12 708.5 v14.6 M948.75 643.57 h-14.6 M948.75 481.23 h-14.6 M948.75 318.9 h-14.6 M948.75 156.57 h-14.6" stroke="#000" stroke-width="4.3" stroke-linecap="round" fill="none"/>
<rect x="948.75" y="124.1" width="571.1" height="584.4" fill="none" stroke="#000" stroke-width="4.3" stroke-linejoin="round"/>
<text transform="translate(1012.21 768.1) scale(0.968 1.045)" text-anchor="middle">200</text>
<text transform="translate(1170.84 768.1) scale(0.968 1.045)" text-anchor="middle">400</text>
<text transform="translate(1329.48 768.1) scale(0.968 1.045)" text-anchor="middle">600</text>
<text transform="translate(1488.12 768.1) scale(0.968 1.045)" text-anchor="middle">800</text>
<text transform="translate(920.75 643.57) rotate(-90) scale(0.990 1.000)" text-anchor="middle">200</text>
<text transform="translate(920.75 481.23) rotate(-90) scale(0.990 1.000)" text-anchor="middle">400</text>
<text transform="translate(920.75 318.9) rotate(-90) scale(0.990 1.000)" text-anchor="middle">600</text>
<text transform="translate(920.75 156.57) rotate(-90) scale(0.990 1.000)" text-anchor="middle">800</text>
<text transform="translate(1234.3 822.1) scale(0.975 1.030)" text-anchor="middle">X/m</text>
<text transform="translate(855.35 416.3) rotate(-90) scale(0.995 0.965)" text-anchor="middle">Y/m</text></g>
<g id="panel-c"><g>
<rect x="161.9" y="904.9" width="18.85" height="19.26" fill="#1A419D"/>
<rect x="179.75" y="904.9" width="36.69" height="19.26" fill="#0080CB"/>
<rect x="215.44" y="904.9" width="36.69" height="19.26" fill="#009FDF"/>
<rect x="251.13" y="904.9" width="36.69" height="19.26" fill="#0080CB"/>
<rect x="286.83" y="904.9" width="36.69" height="19.26" fill="#0061B8"/>
<rect x="322.52" y="904.9" width="36.69" height="19.26" fill="#3A278B"/>
<rect x="358.22" y="904.9" width="72.39" height="19.26" fill="#1A419D"/>
<rect x="429.6" y="904.9" width="143.77" height="19.26" fill="#0061B8"/>
<rect x="572.38" y="904.9" width="108.08" height="19.26" fill="#0080CB"/>
<rect x="679.46" y="904.9" width="36.69" height="19.26" fill="#1A419D"/>
<rect x="715.15" y="904.9" width="18.85" height="19.26" fill="#3A278B"/>
<rect x="161.9" y="923.16" width="125.93" height="37.52" fill="#0061B8"/>
<rect x="286.83" y="923.16" width="36.69" height="37.52" fill="#1A419D"/>
<rect x="322.52" y="923.16" width="72.39" height="37.52" fill="#0061B8"/>
<rect x="393.91" y="923.16" width="36.69" height="37.52" fill="#0080CB"/>
<rect x="429.6" y="923.16" width="143.77" height="37.52" fill="#0061B8"/>
<rect x="572.38" y="923.16" width="108.08" height="37.52" fill="#0080CB"/>
<rect x="679.46" y="923.16" width="36.69" height="37.52" fill="#0061B8"/>
<rect x="715.15" y="923.16" width="18.85" height="37.52" fill="#1A419D"/>
<rect x="161.9" y="959.69" width="54.54" height="37.52" fill="#0061B8"/>
<rect x="215.44" y="959.69" width="36.69" height="37.52" fill="#1A419D"/>
<rect x="251.13" y="959.69" width="36.69" height="37.52" fill="#0080CB"/>
<rect x="286.83" y="959.69" width="108.08" height="37.52" fill="#009FDF"/>
<rect x="393.91" y="959.69" width="36.69" height="37.52" fill="#0080CB"/>
<rect x="429.6" y="959.69" width="72.39" height="37.52" fill="#0061B8"/>
<rect x="500.99" y="959.69" width="143.77" height="37.52" fill="#0080CB"/>
<rect x="643.77" y="959.69" width="90.23" height="37.52" fill="#0061B8"/>
<rect x="161.9" y="996.21" width="18.85" height="37.52" fill="#0061B8"/>
<rect x="179.75" y="996.21" width="36.69" height="37.52" fill="#1A419D"/>
<rect x="215.44" y="996.21" width="36.69" height="37.52" fill="#0061B8"/>
<rect x="251.13" y="996.21" width="72.39" height="37.52" fill="#009FDF"/>
<rect x="322.52" y="996.21" width="36.69" height="37.52" fill="#00B9F4"/>
<rect x="358.22" y="996.21" width="72.39" height="37.52" fill="#009FDF"/>
<rect x="429.6" y="996.21" width="36.69" height="37.52" fill="#0080CB"/>
<rect x="465.3" y="996.21" width="36.69" height="37.52" fill="#00B9F4"/>
<rect x="500.99" y="996.21" width="143.77" height="37.52" fill="#009FDF"/>
<rect x="643.77" y="996.21" width="90.23" height="37.52" fill="#0080CB"/>
<rect x="161.9" y="1032.74" width="54.54" height="37.53" fill="#0080CB"/>
<rect x="215.44" y="1032.74" width="36.69" height="37.53" fill="#009FDF"/>
<rect x="251.13" y="1032.74" width="36.69" height="37.53" fill="#0080CB"/>
<rect x="286.83" y="1032.74" width="143.77" height="37.53" fill="#009FDF"/>
<rect x="429.6" y="1032.74" width="72.39" height="37.53" fill="#00B9F4"/>
<rect x="500.99" y="1032.74" width="36.69" height="37.53" fill="#00D7F0"/>
<rect x="536.68" y="1032.74" width="36.69" height="37.53" fill="#00CFFF"/>
<rect x="572.38" y="1032.74" width="72.39" height="37.53" fill="#00B9F4"/>
<rect x="643.77" y="1032.74" width="72.39" height="37.53" fill="#009FDF"/>
<rect x="715.15" y="1032.74" width="18.85" height="37.53" fill="#0080CB"/>
<rect x="161.9" y="1069.26" width="90.23" height="37.52" fill="#0080CB"/>
<rect x="251.13" y="1069.26" width="36.69" height="37.52" fill="#009FDF"/>
<rect x="286.83" y="1069.26" width="36.69" height="37.52" fill="#00B9F4"/>
<rect x="322.52" y="1069.26" width="36.69" height="37.52" fill="#00CFFF"/>
<rect x="358.22" y="1069.26" width="36.69" height="37.52" fill="#00D7F0"/>
<rect x="393.91" y="1069.26" width="36.69" height="37.52" fill="#00CFFF"/>
<rect x="429.6" y="1069.26" width="36.69" height="37.52" fill="#00D7F0"/>
<rect x="465.3" y="1069.26" width="36.69" height="37.52" fill="#00CFFF"/>
<rect x="500.99" y="1069.26" width="36.69" height="37.52" fill="#00E8E0"/>
<rect x="536.68" y="1069.26" width="72.39" height="37.52" fill="#5FF5DC"/>
<rect x="608.07" y="1069.26" width="36.69" height="37.52" fill="#00DFE9"/>
<rect x="643.77" y="1069.26" width="36.69" height="37.52" fill="#009FDF"/>
<rect x="679.46" y="1069.26" width="36.69" height="37.52" fill="#0080CB"/>
<rect x="715.15" y="1069.26" width="18.85" height="37.52" fill="#0061B8"/>
<rect x="161.9" y="1105.79" width="54.54" height="37.53" fill="#0080CB"/>
<rect x="215.44" y="1105.79" width="36.69" height="37.53" fill="#009FDF"/>
<rect x="251.13" y="1105.79" width="36.69" height="37.53" fill="#00B9F4"/>
<rect x="286.83" y="1105.79" width="36.69" height="37.53" fill="#00DFE9"/>
<rect x="322.52" y="1105.79" width="36.69" height="37.53" fill="#5FF5DC"/>
<rect x="358.22" y="1105.79" width="36.69" height="37.53" fill="#9FFDCF"/>
<rect x="393.91" y="1105.79" width="36.69" height="37.53" fill="#BFFBB3"/>
<rect x="429.6" y="1105.79" width="36.69" height="37.53" fill="#00DFE9"/>
<rect x="465.3" y="1105.79" width="36.69" height="37.53" fill="#00E8E0"/>
<rect x="500.99" y="1105.79" width="36.69" height="37.53" fill="#00DFE9"/>
<rect x="536.68" y="1105.79" width="72.39" height="37.53" fill="#5FF5DC"/>
<rect x="608.07" y="1105.79" width="36.69" height="37.53" fill="#00DFE9"/>
<rect x="643.77" y="1105.79" width="36.69" height="37.53" fill="#00CFFF"/>
<rect x="679.46" y="1105.79" width="36.69" height="37.53" fill="#00B9F4"/>
<rect x="715.15" y="1105.79" width="18.85" height="37.53" fill="#0080CB"/>
<rect x="161.9" y="1142.31" width="18.85" height="37.53" fill="#0061B8"/>
<rect x="179.75" y="1142.31" width="36.69" height="37.53" fill="#009FDF"/>
<rect x="215.44" y="1142.31" width="36.69" height="37.53" fill="#00B9F4"/>
<rect x="251.13" y="1142.31" width="36.69" height="37.53" fill="#00D7F0"/>
<rect x="286.83" y="1142.31" width="36.69" height="37.53" fill="#CFF193"/>
<rect x="322.52" y="1142.31" width="36.69" height="37.53" fill="#FFD400"/>
<rect x="358.22" y="1142.31" width="36.69" height="37.53" fill="#FFDD00"/>
<rect x="393.91" y="1142.31" width="36.69" height="37.53" fill="#FFD400"/>
<rect x="429.6" y="1142.31" width="36.69" height="37.53" fill="#BFFBB3"/>
<rect x="465.3" y="1142.31" width="72.39" height="37.53" fill="#00E8E0"/>
<rect x="536.68" y="1142.31" width="36.69" height="37.53" fill="#5FF5DC"/>
<rect x="572.38" y="1142.31" width="36.69" height="37.53" fill="#9FFDCF"/>
<rect x="608.07" y="1142.31" width="36.69" height="37.53" fill="#00DFE9"/>
<rect x="643.77" y="1142.31" width="36.69" height="37.53" fill="#00CFFF"/>
<rect x="679.46" y="1142.31" width="36.69" height="37.53" fill="#009FDF"/>
<rect x="715.15" y="1142.31" width="18.85" height="37.53" fill="#0061B8"/>
<rect x="161.9" y="1178.84" width="54.54" height="37.52" fill="#0080CB"/>
<rect x="215.44" y="1178.84" width="36.69" height="37.52" fill="#00B9F4"/>
<rect x="251.13" y="1178.84" width="36.69" height="37.52" fill="#00E8E0"/>
<rect x="286.83" y="1178.84" width="36.69" height="37.52" fill="#F0E040"/>
<rect x="322.52" y="1178.84" width="36.69" height="37.52" fill="#FFE533"/>
<rect x="358.22" y="1178.84" width="36.69" height="37.52" fill="#FFF67A"/>
<rect x="393.91" y="1178.84" width="36.69" height="37.52" fill="#FFEE5A"/>
<rect x="429.6" y="1178.84" width="36.69" height="37.52" fill="#E0E866"/>
<rect x="465.3" y="1178.84" width="36.69" height="37.52" fill="#00DFE9"/>
<rect x="500.99" y="1178.84" width="36.69" height="37.52" fill="#00E8E0"/>
<rect x="536.68" y="1178.84" width="36.69" height="37.52" fill="#00DFE9"/>
<rect x="572.38" y="1178.84" width="36.69" height="37.52" fill="#00D7F0"/>
<rect x="608.07" y="1178.84" width="36.69" height="37.52" fill="#00CFFF"/>
<rect x="643.77" y="1178.84" width="36.69" height="37.52" fill="#009FDF"/>
<rect x="679.46" y="1178.84" width="36.69" height="37.52" fill="#0080CB"/>
<rect x="715.15" y="1178.84" width="18.85" height="37.52" fill="#0061B8"/>
<rect x="161.9" y="1215.36" width="18.85" height="37.53" fill="#0080CB"/>
<rect x="179.75" y="1215.36" width="36.69" height="37.53" fill="#009FDF"/>
<rect x="215.44" y="1215.36" width="36.69" height="37.53" fill="#00D7F0"/>
<rect x="251.13" y="1215.36" width="36.69" height="37.53" fill="#9FFDCF"/>
<rect x="286.83" y="1215.36" width="36.69" height="37.53" fill="#FFCF00"/>
<rect x="322.52" y="1215.36" width="72.39" height="37.53" fill="#FFEE5A"/>
<rect x="393.91" y="1215.36" width="36.69" height="37.53" fill="#F0E040"/>
<rect x="429.6" y="1215.36" width="36.69" height="37.53" fill="#BFFBB3"/>
<rect x="465.3" y="1215.36" width="36.69" height="37.53" fill="#00E8E0"/>
<rect x="500.99" y="1215.36" width="72.39" height="37.53" fill="#00DFE9"/>
<rect x="572.38" y="1215.36" width="36.69" height="37.53" fill="#00D7F0"/>
<rect x="608.07" y="1215.36" width="36.69" height="37.53" fill="#00CFFF"/>
<rect x="643.77" y="1215.36" width="36.69" height="37.53" fill="#009FDF"/>
<rect x="679.46" y="1215.36" width="36.69" height="37.53" fill="#0080CB"/>
<rect x="715.15" y="1215.36" width="18.85" height="37.53" fill="#0061B8"/>
<rect x="161.9" y="1251.89" width="18.85" height="37.52" fill="#0080CB"/>
<rect x="179.75" y="1251.89" width="36.69" height="37.52" fill="#009FDF"/>
<rect x="215.44" y="1251.89" width="36.69" height="37.52" fill="#00D7F0"/>
<rect x="251.13" y="1251.89" width="36.69" height="37.52" fill="#CFF193"/>
<rect x="286.83" y="1251.89" width="36.69" height="37.52" fill="#FFCF00"/>
<rect x="322.52" y="1251.89" width="36.69" height="37.52" fill="#FFD400"/>
<rect x="358.22" y="1251.89" width="36.69" height="37.52" fill="#F0E040"/>
<rect x="393.91" y="1251.89" width="36.69" height="37.52" fill="#5FF5DC"/>
<rect x="429.6" y="1251.89" width="36.69" height="37.52" fill="#00E8E0"/>
<rect x="465.3" y="1251.89" width="108.08" height="37.52" fill="#00DFE9"/>
<rect x="572.38" y="1251.89" width="36.69" height="37.52" fill="#9FFDCF"/>
<rect x="608.07" y="1251.89" width="36.69" height="37.52" fill="#00DFE9"/>
<rect x="643.77" y="1251.89" width="36.69" height="37.52" fill="#00CFFF"/>
<rect x="679.46" y="1251.89" width="36.69" height="37.52" fill="#009FDF"/>
<rect x="715.15" y="1251.89" width="18.85" height="37.52" fill="#0080CB"/>
<rect x="161.9" y="1288.41" width="18.85" height="37.53" fill="#0080CB"/>
<rect x="179.75" y="1288.41" width="36.69" height="37.53" fill="#009FDF"/>
<rect x="215.44" y="1288.41" width="36.69" height="37.53" fill="#00D7F0"/>
<rect x="251.13" y="1288.41" width="36.69" height="37.53" fill="#5FF5DC"/>
<rect x="286.83" y="1288.41" width="36.69" height="37.53" fill="#BFFBB3"/>
<rect x="322.52" y="1288.41" width="36.69" height="37.53" fill="#CFF193"/>
<rect x="358.22" y="1288.41" width="36.69" height="37.53" fill="#9FFDCF"/>
<rect x="393.91" y="1288.41" width="36.69" height="37.53" fill="#00DFE9"/>
<rect x="429.6" y="1288.41" width="36.69" height="37.53" fill="#009FDF"/>
<rect x="465.3" y="1288.41" width="36.69" height="37.53" fill="#00CFFF"/>
<rect x="500.99" y="1288.41" width="36.69" height="37.53" fill="#00D7F0"/>
<rect x="536.68" y="1288.41" width="36.69" height="37.53" fill="#9FFDCF"/>
<rect x="572.38" y="1288.41" width="36.69" height="37.53" fill="#F0E040"/>
<rect x="608.07" y="1288.41" width="36.69" height="37.53" fill="#9FFDCF"/>
<rect x="643.77" y="1288.41" width="36.69" height="37.53" fill="#00DFE9"/>
<rect x="679.46" y="1288.41" width="36.69" height="37.53" fill="#009FDF"/>
<rect x="715.15" y="1288.41" width="18.85" height="37.53" fill="#0080CB"/>
<rect x="161.9" y="1324.94" width="18.85" height="37.53" fill="#0061B8"/>
<rect x="179.75" y="1324.94" width="36.69" height="37.53" fill="#009FDF"/>
<rect x="215.44" y="1324.94" width="36.69" height="37.53" fill="#00B9F4"/>
<rect x="251.13" y="1324.94" width="36.69" height="37.53" fill="#00CFFF"/>
<rect x="286.83" y="1324.94" width="72.39" height="37.53" fill="#00DFE9"/>
<rect x="358.22" y="1324.94" width="36.69" height="37.53" fill="#00D7F0"/>
<rect x="393.91" y="1324.94" width="36.69" height="37.53" fill="#00B9F4"/>
<rect x="429.6" y="1324.94" width="36.69" height="37.53" fill="#009FDF"/>
<rect x="465.3" y="1324.94" width="72.39" height="37.53" fill="#00CFFF"/>
<rect x="536.68" y="1324.94" width="36.69" height="37.53" fill="#9FFDCF"/>
<rect x="572.38" y="1324.94" width="36.69" height="37.53" fill="#CFF193"/>
<rect x="608.07" y="1324.94" width="36.69" height="37.53" fill="#5FF5DC"/>
<rect x="643.77" y="1324.94" width="36.69" height="37.53" fill="#00D7F0"/>
<rect x="679.46" y="1324.94" width="36.69" height="37.53" fill="#0080CB"/>
<rect x="715.15" y="1324.94" width="18.85" height="37.53" fill="#0061B8"/>
<rect x="161.9" y="1361.46" width="18.85" height="37.52" fill="#0061B8"/>
<rect x="179.75" y="1361.46" width="72.39" height="37.52" fill="#0080CB"/>
<rect x="251.13" y="1361.46" width="36.69" height="37.52" fill="#009FDF"/>
<rect x="286.83" y="1361.46" width="36.69" height="37.52" fill="#00B9F4"/>
<rect x="322.52" y="1361.46" width="72.39" height="37.52" fill="#00CFFF"/>
<rect x="393.91" y="1361.46" width="36.69" height="37.52" fill="#00B9F4"/>
<rect x="429.6" y="1361.46" width="36.69" height="37.52" fill="#009FDF"/>
<rect x="465.3" y="1361.46" width="36.69" height="37.52" fill="#0080CB"/>
<rect x="500.99" y="1361.46" width="36.69" height="37.52" fill="#009FDF"/>
<rect x="536.68" y="1361.46" width="36.69" height="37.52" fill="#00B9F4"/>
<rect x="572.38" y="1361.46" width="36.69" height="37.52" fill="#00E8E0"/>
<rect x="608.07" y="1361.46" width="36.69" height="37.52" fill="#00D7F0"/>
<rect x="643.77" y="1361.46" width="36.69" height="37.52" fill="#00CFFF"/>
<rect x="679.46" y="1361.46" width="54.54" height="37.52" fill="#0061B8"/>
<rect x="161.9" y="1397.99" width="18.85" height="37.52" fill="#1A419D"/>
<rect x="179.75" y="1397.99" width="108.08" height="37.52" fill="#0080CB"/>
<rect x="286.83" y="1397.99" width="72.39" height="37.52" fill="#009FDF"/>
<rect x="358.22" y="1397.99" width="36.69" height="37.52" fill="#0080CB"/>
<rect x="393.91" y="1397.99" width="36.69" height="37.52" fill="#00B9F4"/>
<rect x="429.6" y="1397.99" width="36.69" height="37.52" fill="#0080CB"/>
<rect x="465.3" y="1397.99" width="36.69" height="37.52" fill="#009FDF"/>
<rect x="500.99" y="1397.99" width="72.39" height="37.52" fill="#0080CB"/>
<rect x="572.38" y="1397.99" width="36.69" height="37.52" fill="#009FDF"/>
<rect x="608.07" y="1397.99" width="36.69" height="37.52" fill="#0080CB"/>
<rect x="643.77" y="1397.99" width="36.69" height="37.52" fill="#009FDF"/>
<rect x="679.46" y="1397.99" width="36.69" height="37.52" fill="#1A419D"/>
<rect x="715.15" y="1397.99" width="18.85" height="37.52" fill="#0061B8"/>
<rect x="161.9" y="1434.51" width="18.85" height="37.53" fill="#3A278B"/>
<rect x="179.75" y="1434.51" width="36.69" height="37.53" fill="#0061B8"/>
<rect x="215.44" y="1434.51" width="72.39" height="37.53" fill="#0080CB"/>
<rect x="286.83" y="1434.51" width="36.69" height="37.53" fill="#0061B8"/>
<rect x="322.52" y="1434.51" width="36.69" height="37.53" fill="#1A419D"/>
<rect x="358.22" y="1434.51" width="72.39" height="37.53" fill="#0080CB"/>
<rect x="429.6" y="1434.51" width="72.39" height="37.53" fill="#009FDF"/>
<rect x="500.99" y="1434.51" width="36.69" height="37.53" fill="#0080CB"/>
<rect x="536.68" y="1434.51" width="36.69" height="37.53" fill="#1A419D"/>
<rect x="572.38" y="1434.51" width="36.69" height="37.53" fill="#0061B8"/>
<rect x="608.07" y="1434.51" width="72.39" height="37.53" fill="#0080CB"/>
<rect x="679.46" y="1434.51" width="54.54" height="37.53" fill="#1A419D"/>
<rect x="161.9" y="1471.04" width="18.85" height="19.26" fill="#3A278B"/>
<rect x="179.75" y="1471.04" width="36.69" height="19.26" fill="#1A419D"/>
<rect x="215.44" y="1471.04" width="72.39" height="19.26" fill="#0080CB"/>
<rect x="286.83" y="1471.04" width="36.69" height="19.26" fill="#0061B8"/>
<rect x="322.52" y="1471.04" width="36.69" height="19.26" fill="#1A419D"/>
<rect x="358.22" y="1471.04" width="36.69" height="19.26" fill="#0080CB"/>
<rect x="393.91" y="1471.04" width="179.47" height="19.26" fill="#0061B8"/>
<rect x="572.38" y="1471.04" width="36.69" height="19.26" fill="#1A419D"/>
<rect x="608.07" y="1471.04" width="36.69" height="19.26" fill="#0080CB"/>
<rect x="643.77" y="1471.04" width="36.69" height="19.26" fill="#0061B8"/>
<rect x="679.46" y="1471.04" width="36.69" height="19.26" fill="#1A419D"/>
<rect x="715.15" y="1471.04" width="18.85" height="19.26" fill="#3A278B"/>
</g>
<path d="M225.36 1489.3 v14.6 M383.99 1489.3 v14.6 M542.63 1489.3 v14.6 M701.27 1489.3 v14.6 M161.9 1424.37 h-14.6 M161.9 1262.03 h-14.6 M161.9 1099.7 h-14.6 M161.9 937.37 h-14.6" stroke="#000" stroke-width="4.3" stroke-linecap="round" fill="none"/>
<rect x="161.9" y="904.9" width="571.1" height="584.4" fill="none" stroke="#000" stroke-width="4.3" stroke-linejoin="round"/>
<text transform="translate(225.36 1548.9) scale(0.968 1.045)" text-anchor="middle">200</text>
<text transform="translate(383.99 1548.9) scale(0.968 1.045)" text-anchor="middle">400</text>
<text transform="translate(542.63 1548.9) scale(0.968 1.045)" text-anchor="middle">600</text>
<text transform="translate(701.27 1548.9) scale(0.968 1.045)" text-anchor="middle">800</text>
<text transform="translate(133.9 1424.37) rotate(-90) scale(0.990 1.000)" text-anchor="middle">200</text>
<text transform="translate(133.9 1262.03) rotate(-90) scale(0.990 1.000)" text-anchor="middle">400</text>
<text transform="translate(133.9 1099.7) rotate(-90) scale(0.990 1.000)" text-anchor="middle">600</text>
<text transform="translate(133.9 937.37) rotate(-90) scale(0.990 1.000)" text-anchor="middle">800</text>
<text transform="translate(447.45 1602.9) scale(0.975 1.030)" text-anchor="middle">X/m</text>
<text transform="translate(68.5 1197.1) rotate(-90) scale(0.995 0.965)" text-anchor="middle">Y/m</text></g>
<g id="panel-d"><g>
<rect x="948.75" y="904.9" width="18.85" height="19.26" fill="#1545A0"/>
<rect x="966.6" y="904.9" width="36.69" height="19.26" fill="#0070C4"/>
<rect x="1002.29" y="904.9" width="36.69" height="19.26" fill="#39268A"/>
<rect x="1037.98" y="904.9" width="36.69" height="19.26" fill="#0070C4"/>
<rect x="1073.68" y="904.9" width="36.69" height="19.26" fill="#0555AD"/>
<rect x="1109.37" y="904.9" width="36.69" height="19.26" fill="#00CCFF"/>
<rect x="1145.07" y="904.9" width="36.69" height="19.26" fill="#005EB5"/>
<rect x="1180.76" y="904.9" width="72.39" height="19.26" fill="#39268A"/>
<rect x="1252.15" y="904.9" width="36.69" height="19.26" fill="#1545A0"/>
<rect x="1287.84" y="904.9" width="36.69" height="19.26" fill="#00ACEA"/>
<rect x="1323.53" y="904.9" width="36.69" height="19.26" fill="#007ACA"/>
<rect x="1359.23" y="904.9" width="36.69" height="19.26" fill="#39268A"/>
<rect x="1394.92" y="904.9" width="36.69" height="19.26" fill="#007ACA"/>
<rect x="1430.62" y="904.9" width="36.69" height="19.26" fill="#39268A"/>
<rect x="1466.31" y="904.9" width="36.69" height="19.26" fill="#2F3397"/>
<rect x="1502" y="904.9" width="18.85" height="19.26" fill="#39268A"/>
<rect x="948.75" y="923.16" width="90.23" height="37.52" fill="#39268A"/>
<rect x="1037.98" y="923.16" width="36.69" height="37.52" fill="#00B8F2"/>
<rect x="1073.68" y="923.16" width="72.39" height="37.52" fill="#39268A"/>
<rect x="1145.07" y="923.16" width="36.69" height="37.52" fill="#00B8F2"/>
<rect x="1180.76" y="923.16" width="36.69" height="37.52" fill="#2F3397"/>
<rect x="1216.45" y="923.16" width="36.69" height="37.52" fill="#0098DC"/>
<rect x="1252.15" y="923.16" width="36.69" height="37.52" fill="#39268A"/>
<rect x="1287.84" y="923.16" width="36.69" height="37.52" fill="#007ACA"/>
<rect x="1323.53" y="923.16" width="108.08" height="37.52" fill="#39268A"/>
<rect x="1430.62" y="923.16" width="36.69" height="37.52" fill="#0084D0"/>
<rect x="1466.31" y="923.16" width="36.69" height="37.52" fill="#005EB5"/>
<rect x="1502" y="923.16" width="18.85" height="37.52" fill="#39268A"/>
<rect x="948.75" y="959.69" width="18.85" height="37.52" fill="#005EB5"/>
<rect x="966.6" y="959.69" width="36.69" height="37.52" fill="#0070C4"/>
<rect x="1002.29" y="959.69" width="36.69" height="37.52" fill="#00A0E0"/>
<rect x="1037.98" y="959.69" width="36.69" height="37.52" fill="#0555AD"/>
<rect x="1073.68" y="959.69" width="36.69" height="37.52" fill="#39268A"/>
<rect x="1109.37" y="959.69" width="36.69" height="37.52" fill="#0066BB"/>
<rect x="1145.07" y="959.69" width="108.08" height="37.52" fill="#39268A"/>
<rect x="1252.15" y="959.69" width="36.69" height="37.52" fill="#0098DC"/>
<rect x="1287.84" y="959.69" width="215.16" height="37.52" fill="#39268A"/>
<rect x="1502" y="959.69" width="18.85" height="37.52" fill="#2F3397"/>
<rect x="948.75" y="996.21" width="18.85" height="37.52" fill="#0066BB"/>
<rect x="966.6" y="996.21" width="36.69" height="37.52" fill="#39268A"/>
<rect x="1002.29" y="996.21" width="36.69" height="37.52" fill="#1545A0"/>
<rect x="1037.98" y="996.21" width="36.69" height="37.52" fill="#39268A"/>
<rect x="1073.68" y="996.21" width="36.69" height="37.52" fill="#005EB5"/>
<rect x="1109.37" y="996.21" width="36.69" height="37.52" fill="#39268A"/>
<rect x="1145.07" y="996.21" width="36.69" height="37.52" fill="#253C9C"/>
<rect x="1180.76" y="996.21" width="36.69" height="37.52" fill="#39268A"/>
<rect x="1216.45" y="996.21" width="36.69" height="37.52" fill="#00B8F2"/>
<rect x="1252.15" y="996.21" width="36.69" height="37.52" fill="#39268A"/>
<rect x="1287.84" y="996.21" width="36.69" height="37.52" fill="#0066BB"/>
<rect x="1323.53" y="996.21" width="36.69" height="37.52" fill="#39268A"/>
<rect x="1359.23" y="996.21" width="36.69" height="37.52" fill="#005EB5"/>
<rect x="1394.92" y="996.21" width="36.69" height="37.52" fill="#39268A"/>
<rect x="1430.62" y="996.21" width="36.69" height="37.52" fill="#2F3397"/>
<rect x="1466.31" y="996.21" width="36.69" height="37.52" fill="#1545A0"/>
<rect x="1502" y="996.21" width="18.85" height="37.52" fill="#39268A"/>
<rect x="948.75" y="1032.74" width="125.93" height="37.53" fill="#39268A"/>
<rect x="1073.68" y="1032.74" width="36.69" height="37.53" fill="#0098DC"/>
<rect x="1109.37" y="1032.74" width="36.69" height="37.53" fill="#39268A"/>
<rect x="1145.07" y="1032.74" width="36.69" height="37.53" fill="#007ACA"/>
<rect x="1180.76" y="1032.74" width="36.69" height="37.53" fill="#39268A"/>
<rect x="1216.45" y="1032.74" width="36.69" height="37.53" fill="#007ACA"/>
<rect x="1252.15" y="1032.74" width="36.69" height="37.53" fill="#39268A"/>
<rect x="1287.84" y="1032.74" width="36.69" height="37.53" fill="#008ED6"/>
<rect x="1323.53" y="1032.74" width="72.39" height="37.53" fill="#39268A"/>
<rect x="1394.92" y="1032.74" width="36.69" height="37.53" fill="#005EB5"/>
<rect x="1430.62" y="1032.74" width="36.69" height="37.53" fill="#39268A"/>
<rect x="1466.31" y="1032.74" width="36.69" height="37.53" fill="#007ACA"/>
<rect x="1502" y="1032.74" width="18.85" height="37.53" fill="#39268A"/>
<rect x="948.75" y="1069.26" width="18.85" height="37.52" fill="#39268A"/>
<rect x="966.6" y="1069.26" width="36.69" height="37.52" fill="#0070C4"/>
<rect x="1002.29" y="1069.26" width="36.69" height="37.52" fill="#39268A"/>
<rect x="1037.98" y="1069.26" width="36.69" height="37.52" fill="#005EB5"/>
<rect x="1073.68" y="1069.26" width="72.39" height="37.52" fill="#39268A"/>
<rect x="1145.07" y="1069.26" width="36.69" height="37.52" fill="#2F3397"/>
<rect x="1180.76" y="1069.26" width="36.69" height="37.52" fill="#00ACEA"/>
<rect x="1216.45" y="1069.26" width="36.69" height="37.52" fill="#39268A"/>
<rect x="1252.15" y="1069.26" width="36.69" height="37.52" fill="#1545A0"/>
<rect x="1287.84" y="1069.26" width="72.39" height="37.52" fill="#39268A"/>
<rect x="1359.23" y="1069.26" width="36.69" height="37.52" fill="#00C0F8"/>
<rect x="1394.92" y="1069.26" width="36.69" height="37.52" fill="#0098DC"/>
<rect x="1430.62" y="1069.26" width="36.69" height="37.52" fill="#39268A"/>
<rect x="1466.31" y="1069.26" width="36.69" height="37.52" fill="#2F3397"/>
<rect x="1502" y="1069.26" width="18.85" height="37.52" fill="#39268A"/>
<rect x="948.75" y="1105.79" width="18.85" height="37.53" fill="#00A0E0"/>
<rect x="966.6" y="1105.79" width="36.69" height="37.53" fill="#0555AD"/>
<rect x="1002.29" y="1105.79" width="36.69" height="37.53" fill="#39268A"/>
<rect x="1037.98" y="1105.79" width="36.69" height="37.53" fill="#007ACA"/>
<rect x="1073.68" y="1105.79" width="179.47" height="37.53" fill="#39268A"/>
<rect x="1252.15" y="1105.79" width="36.69" height="37.53" fill="#0066BB"/>
<rect x="1287.84" y="1105.79" width="36.69" height="37.53" fill="#39268A"/>
<rect x="1323.53" y="1105.79" width="36.69" height="37.53" fill="#00B8F2"/>
<rect x="1359.23" y="1105.79" width="36.69" height="37.53" fill="#005EB5"/>
<rect x="1394.92" y="1105.79" width="36.69" height="37.53" fill="#39268A"/>
<rect x="1430.62" y="1105.79" width="36.69" height="37.53" fill="#005EB5"/>
<rect x="1466.31" y="1105.79" width="54.54" height="37.53" fill="#39268A"/>
<rect x="948.75" y="1142.31" width="54.54" height="37.53" fill="#39268A"/>
<rect x="1002.29" y="1142.31" width="36.69" height="37.53" fill="#005EB5"/>
<rect x="1037.98" y="1142.31" width="36.69" height="37.53" fill="#0066BB"/>
<rect x="1073.68" y="1142.31" width="108.08" height="37.53" fill="#39268A"/>
<rect x="1180.76" y="1142.31" width="36.69" height="37.53" fill="#005EB5"/>
<rect x="1216.45" y="1142.31" width="36.69" height="37.53" fill="#39268A"/>
<rect x="1252.15" y="1142.31" width="36.69" height="37.53" fill="#2F3397"/>
<rect x="1287.84" y="1142.31" width="36.69" height="37.53" fill="#00B8F2"/>
<rect x="1323.53" y="1142.31" width="36.69" height="37.53" fill="#0066BB"/>
<rect x="1359.23" y="1142.31" width="36.69" height="37.53" fill="#39268A"/>
<rect x="1394.92" y="1142.31" width="36.69" height="37.53" fill="#1545A0"/>
<rect x="1430.62" y="1142.31" width="72.39" height="37.53" fill="#39268A"/>
<rect x="1502" y="1142.31" width="18.85" height="37.53" fill="#1545A0"/>
<rect x="948.75" y="1178.84" width="18.85" height="37.52" fill="#39268A"/>
<rect x="966.6" y="1178.84" width="36.69" height="37.52" fill="#00A0E0"/>
<rect x="1002.29" y="1178.84" width="36.69" height="37.52" fill="#005EB5"/>
<rect x="1037.98" y="1178.84" width="36.69" height="37.52" fill="#39268A"/>
<rect x="1073.68" y="1178.84" width="36.69" height="37.52" fill="#005EB5"/>
<rect x="1109.37" y="1178.84" width="36.69" height="37.52" fill="#39268A"/>
<rect x="1145.07" y="1178.84" width="36.69" height="37.52" fill="#2F3397"/>
<rect x="1180.76" y="1178.84" width="36.69" height="37.52" fill="#39268A"/>
<rect x="1216.45" y="1178.84" width="36.69" height="37.52" fill="#0098DC"/>
<rect x="1252.15" y="1178.84" width="72.39" height="37.52" fill="#39268A"/>
<rect x="1323.53" y="1178.84" width="36.69" height="37.52" fill="#005EB5"/>
<rect x="1359.23" y="1178.84" width="72.39" height="37.52" fill="#39268A"/>
<rect x="1430.62" y="1178.84" width="36.69" height="37.52" fill="#253C9C"/>
<rect x="1466.31" y="1178.84" width="54.54" height="37.52" fill="#39268A"/>
<rect x="948.75" y="1215.36" width="18.85" height="37.53" fill="#00A0E0"/>
<rect x="966.6" y="1215.36" width="143.78" height="37.53" fill="#39268A"/>
<rect x="1109.37" y="1215.36" width="36.69" height="37.53" fill="#0555AD"/>
<rect x="1145.07" y="1215.36" width="108.08" height="37.53" fill="#39268A"/>
<rect x="1252.15" y="1215.36" width="36.69" height="37.53" fill="#0084D0"/>
<rect x="1287.84" y="1215.36" width="72.39" height="37.53" fill="#39268A"/>
<rect x="1359.23" y="1215.36" width="36.69" height="37.53" fill="#253C9C"/>
<rect x="1394.92" y="1215.36" width="36.69" height="37.53" fill="#39268A"/>
<rect x="1430.62" y="1215.36" width="36.69" height="37.53" fill="#253C9C"/>
<rect x="1466.31" y="1215.36" width="36.69" height="37.53" fill="#2F3397"/>
<rect x="1502" y="1215.36" width="18.85" height="37.53" fill="#39268A"/>
<rect x="948.75" y="1251.89" width="18.85" height="37.52" fill="#39268A"/>
<rect x="966.6" y="1251.89" width="36.69" height="37.52" fill="#0070C4"/>
<rect x="1002.29" y="1251.89" width="36.69" height="37.52" fill="#39268A"/>
<rect x="1037.98" y="1251.89" width="36.69" height="37.52" fill="#0070C4"/>
<rect x="1073.68" y="1251.89" width="179.47" height="37.52" fill="#39268A"/>
<rect x="1252.15" y="1251.89" width="36.69" height="37.52" fill="#1545A0"/>
<rect x="1287.84" y="1251.89" width="36.69" height="37.52" fill="#0084D0"/>
<rect x="1323.53" y="1251.89" width="36.69" height="37.52" fill="#39268A"/>
<rect x="1359.23" y="1251.89" width="36.69" height="37.52" fill="#00E0E8"/>
<rect x="1394.92" y="1251.89" width="72.39" height="37.52" fill="#39268A"/>
<rect x="1466.31" y="1251.89" width="36.69" height="37.52" fill="#2F3397"/>
<rect x="1502" y="1251.89" width="18.85" height="37.52" fill="#39268A"/>
<rect x="948.75" y="1288.41" width="18.85" height="37.53" fill="#00D0FA"/>
<rect x="966.6" y="1288.41" width="36.69" height="37.53" fill="#1545A0"/>
<rect x="1002.29" y="1288.41" width="108.08" height="37.53" fill="#39268A"/>
<rect x="1109.37" y="1288.41" width="36.69" height="37.53" fill="#2F3397"/>
<rect x="1145.07" y="1288.41" width="36.69" height="37.53" fill="#253C9C"/>
<rect x="1180.76" y="1288.41" width="36.69" height="37.53" fill="#39268A"/>
<rect x="1216.45" y="1288.41" width="36.69" height="37.53" fill="#00D0FA"/>
<rect x="1252.15" y="1288.41" width="36.69" height="37.53" fill="#005EB5"/>
<rect x="1287.84" y="1288.41" width="36.69" height="37.53" fill="#39268A"/>
<rect x="1323.53" y="1288.41" width="36.69" height="37.53" fill="#2F3397"/>
<rect x="1359.23" y="1288.41" width="72.39" height="37.53" fill="#39268A"/>
<rect x="1430.62" y="1288.41" width="36.69" height="37.53" fill="#0066BB"/>
<rect x="1466.31" y="1288.41" width="54.54" height="37.53" fill="#39268A"/>
<rect x="948.75" y="1324.94" width="18.85" height="37.53" fill="#39268A"/>
<rect x="966.6" y="1324.94" width="36.69" height="37.53" fill="#005EB5"/>
<rect x="1002.29" y="1324.94" width="179.47" height="37.53" fill="#39268A"/>
<rect x="1180.76" y="1324.94" width="36.69" height="37.53" fill="#00C0F8"/>
<rect x="1216.45" y="1324.94" width="36.69" height="37.53" fill="#253C9C"/>
<rect x="1252.15" y="1324.94" width="250.86" height="37.53" fill="#39268A"/>
<rect x="1502" y="1324.94" width="18.85" height="37.53" fill="#0066BB"/>
<rect x="948.75" y="1361.46" width="18.85" height="37.52" fill="#005EB5"/>
<rect x="966.6" y="1361.46" width="36.69" height="37.52" fill="#0555AD"/>
<rect x="1002.29" y="1361.46" width="36.69" height="37.52" fill="#39268A"/>
<rect x="1037.98" y="1361.46" width="36.69" height="37.52" fill="#005EB5"/>
<rect x="1073.68" y="1361.46" width="36.69" height="37.52" fill="#39268A"/>
<rect x="1109.37" y="1361.46" width="36.69" height="37.52" fill="#00B8F2"/>
<rect x="1145.07" y="1361.46" width="108.08" height="37.52" fill="#39268A"/>
<rect x="1252.15" y="1361.46" width="72.39" height="37.52" fill="#2F3397"/>
<rect x="1323.53" y="1361.46" width="36.69" height="37.52" fill="#39268A"/>
<rect x="1359.23" y="1361.46" width="36.69" height="37.52" fill="#00D0FA"/>
<rect x="1394.92" y="1361.46" width="36.69" height="37.52" fill="#39268A"/>
<rect x="1430.62" y="1361.46" width="36.69" height="37.52" fill="#00D0FA"/>
<rect x="1466.31" y="1361.46" width="36.69" height="37.52" fill="#2F3397"/>
<rect x="1502" y="1361.46" width="18.85" height="37.52" fill="#39268A"/>
<rect x="948.75" y="1397.99" width="54.54" height="37.52" fill="#39268A"/>
<rect x="1002.29" y="1397.99" width="36.69" height="37.52" fill="#0066BB"/>
<rect x="1037.98" y="1397.99" width="143.78" height="37.52" fill="#39268A"/>
<rect x="1180.76" y="1397.99" width="36.69" height="37.52" fill="#005EB5"/>
<rect x="1216.45" y="1397.99" width="36.69" height="37.52" fill="#39268A"/>
<rect x="1252.15" y="1397.99" width="36.69" height="37.52" fill="#0084D0"/>
<rect x="1287.84" y="1397.99" width="36.69" height="37.52" fill="#39268A"/>
<rect x="1323.53" y="1397.99" width="36.69" height="37.52" fill="#005EB5"/>
<rect x="1359.23" y="1397.99" width="143.77" height="37.52" fill="#39268A"/>
<rect x="1502" y="1397.99" width="18.85" height="37.52" fill="#0066BB"/>
<rect x="948.75" y="1434.51" width="18.85" height="37.53" fill="#00D0FA"/>
<rect x="966.6" y="1434.51" width="36.69" height="37.53" fill="#007ACA"/>
<rect x="1002.29" y="1434.51" width="36.69" height="37.53" fill="#2F3397"/>
<rect x="1037.98" y="1434.51" width="36.69" height="37.53" fill="#39268A"/>
<rect x="1073.68" y="1434.51" width="36.69" height="37.53" fill="#005EB5"/>
<rect x="1109.37" y="1434.51" width="108.08" height="37.53" fill="#39268A"/>
<rect x="1216.45" y="1434.51" width="36.69" height="37.53" fill="#00ACEA"/>
<rect x="1252.15" y="1434.51" width="36.69" height="37.53" fill="#0066BB"/>
<rect x="1287.84" y="1434.51" width="36.69" height="37.53" fill="#39268A"/>
<rect x="1323.53" y="1434.51" width="36.69" height="37.53" fill="#00E8E0"/>
<rect x="1359.23" y="1434.51" width="36.69" height="37.53" fill="#0555AD"/>
<rect x="1394.92" y="1434.51" width="36.69" height="37.53" fill="#39268A"/>
<rect x="1430.62" y="1434.51" width="36.69" height="37.53" fill="#0555AD"/>
<rect x="1466.31" y="1434.51" width="36.69" height="37.53" fill="#0084D0"/>
<rect x="1502" y="1434.51" width="18.85" height="37.53" fill="#39268A"/>
<rect x="948.75" y="1471.04" width="18.85" height="19.26" fill="#00B8F2"/>
<rect x="966.6" y="1471.04" width="36.69" height="19.26" fill="#39268A"/>
<rect x="1002.29" y="1471.04" width="36.69" height="19.26" fill="#2F3397"/>
<rect x="1037.98" y="1471.04" width="36.69" height="19.26" fill="#00ACEA"/>
<rect x="1073.68" y="1471.04" width="36.69" height="19.26" fill="#39268A"/>
<rect x="1109.37" y="1471.04" width="36.69" height="19.26" fill="#0070C4"/>
<rect x="1145.07" y="1471.04" width="36.69" height="19.26" fill="#39268A"/>
<rect x="1180.76" y="1471.04" width="36.69" height="19.26" fill="#007ACA"/>
<rect x="1216.45" y="1471.04" width="72.39" height="19.26" fill="#39268A"/>
<rect x="1287.84" y="1471.04" width="36.69" height="19.26" fill="#1545A0"/>
<rect x="1323.53" y="1471.04" width="36.69" height="19.26" fill="#007ACA"/>
<rect x="1359.23" y="1471.04" width="36.69" height="19.26" fill="#39268A"/>
<rect x="1394.92" y="1471.04" width="36.69" height="19.26" fill="#00A0E0"/>
<rect x="1430.62" y="1471.04" width="72.39" height="19.26" fill="#39268A"/>
<rect x="1502" y="1471.04" width="18.85" height="19.26" fill="#00E8E0"/>
</g>
<path d="M1012.21 1489.3 v14.6 M1170.84 1489.3 v14.6 M1329.48 1489.3 v14.6 M1488.12 1489.3 v14.6 M948.75 1424.37 h-14.6 M948.75 1262.03 h-14.6 M948.75 1099.7 h-14.6 M948.75 937.37 h-14.6" stroke="#000" stroke-width="4.3" stroke-linecap="round" fill="none"/>
<rect x="948.75" y="904.9" width="571.1" height="584.4" fill="none" stroke="#000" stroke-width="4.3" stroke-linejoin="round"/>
<text transform="translate(1012.21 1548.9) scale(0.968 1.045)" text-anchor="middle">200</text>
<text transform="translate(1170.84 1548.9) scale(0.968 1.045)" text-anchor="middle">400</text>
<text transform="translate(1329.48 1548.9) scale(0.968 1.045)" text-anchor="middle">600</text>
<text transform="translate(1488.12 1548.9) scale(0.968 1.045)" text-anchor="middle">800</text>
<text transform="translate(920.75 1424.37) rotate(-90) scale(0.990 1.000)" text-anchor="middle">200</text>
<text transform="translate(920.75 1262.03) rotate(-90) scale(0.990 1.000)" text-anchor="middle">400</text>
<text transform="translate(920.75 1099.7) rotate(-90) scale(0.990 1.000)" text-anchor="middle">600</text>
<text transform="translate(920.75 937.37) rotate(-90) scale(0.990 1.000)" text-anchor="middle">800</text>
<text transform="translate(1234.3 1602.9) scale(0.975 1.030)" text-anchor="middle">X/m</text>
<text transform="translate(855.35 1197.1) rotate(-90) scale(0.995 0.965)" text-anchor="middle">Y/m</text></g>
<text transform="translate(20.3 64.05) scale(1.025 1.000)" style="font-size:56px">(a)</text>
<text transform="translate(816 64.05) scale(1.045 1.000)" style="font-size:56px">(b)</text>
<text transform="translate(20.3 867.85) scale(1.012 1.000)" style="font-size:56px">(c)</text>
<text transform="translate(816.8 867.85) scale(1.030 1.000)" style="font-size:56px">(d)</text>
<g id="cb-ppm"><g>
<rect x="1641.25" y="127" width="42.95" height="24.51" fill="#FFFF94"/>
<rect x="1641.25" y="150.51" width="42.95" height="25.39" fill="#FFF67A"/>
<rect x="1641.25" y="174.91" width="42.95" height="25.39" fill="#FFEE5A"/>
<rect x="1641.25" y="199.3" width="42.95" height="25.39" fill="#FFE533"/>
<rect x="1641.25" y="223.7" width="42.95" height="25.39" fill="#FFDD00"/>
<rect x="1641.25" y="248.09" width="42.95" height="25.4" fill="#FFD400"/>
<rect x="1641.25" y="272.49" width="42.95" height="25.39" fill="#FFCF00"/>
<rect x="1641.25" y="296.88" width="42.95" height="25.39" fill="#FFD800"/>
<rect x="1641.25" y="321.28" width="42.95" height="25.4" fill="#F0E040"/>
<rect x="1641.25" y="345.67" width="42.95" height="25.39" fill="#E0E866"/>
<rect x="1641.25" y="370.07" width="42.95" height="25.39" fill="#CFF193"/>
<rect x="1641.25" y="394.46" width="42.95" height="25.4" fill="#BFFBB3"/>
<rect x="1641.25" y="418.86" width="42.95" height="25.39" fill="#9FFDCF"/>
<rect x="1641.25" y="443.25" width="42.95" height="25.39" fill="#5FF5DC"/>
<rect x="1641.25" y="467.65" width="42.95" height="25.4" fill="#00E8E0"/>
<rect x="1641.25" y="492.04" width="42.95" height="25.39" fill="#00DFE9"/>
<rect x="1641.25" y="516.44" width="42.95" height="25.39" fill="#00D7F0"/>
<rect x="1641.25" y="540.83" width="42.95" height="25.39" fill="#00CFFF"/>
<rect x="1641.25" y="565.23" width="42.95" height="25.39" fill="#00B9F4"/>
<rect x="1641.25" y="589.62" width="42.95" height="25.4" fill="#009FDF"/>
<rect x="1641.25" y="614.02" width="42.95" height="25.39" fill="#0080CB"/>
<rect x="1641.25" y="638.41" width="42.95" height="25.39" fill="#0061B8"/>
<rect x="1641.25" y="662.81" width="42.95" height="25.39" fill="#1A419D"/>
<rect x="1641.25" y="687.2" width="42.95" height="24.1" fill="#3A278B"/>
</g>
<rect x="1641.25" y="127" width="42.95" height="584.3" fill="none" stroke="#000" stroke-width="4.2" stroke-linejoin="round"/>
<text transform="translate(1698.7 706.2) scale(0.968 1.045)">10</text>
<text transform="translate(1698.7 608.62) scale(0.968 1.045)">14</text>
<text transform="translate(1698.7 511.04) scale(0.968 1.045)">18</text>
<text transform="translate(1698.7 413.46) scale(0.968 1.045)">22</text>
<text transform="translate(1698.7 315.88) scale(0.968 1.045)">26</text>
<text transform="translate(1698.7 218.3) scale(0.968 1.045)">30</text>
<text transform="translate(1619.2 420.2) rotate(-90) scale(0.995 0.965)" text-anchor="middle">ppm</text></g>
<g id="cb-err"><g>
<rect x="1641.25" y="912.8" width="42.95" height="28.6" fill="#00E8E0"/>
<rect x="1641.25" y="940.4" width="42.95" height="28.82" fill="#00E0E8"/>
<rect x="1641.25" y="968.22" width="42.95" height="28.82" fill="#00D8F0"/>
<rect x="1641.25" y="996.04" width="42.95" height="28.82" fill="#00D0FA"/>
<rect x="1641.25" y="1023.86" width="42.95" height="28.82" fill="#00CCFF"/>
<rect x="1641.25" y="1051.68" width="42.95" height="28.82" fill="#00C0F8"/>
<rect x="1641.25" y="1079.5" width="42.95" height="28.82" fill="#00B8F2"/>
<rect x="1641.25" y="1107.32" width="42.95" height="28.82" fill="#00ACEA"/>
<rect x="1641.25" y="1135.14" width="42.95" height="28.82" fill="#00A0E0"/>
<rect x="1641.25" y="1162.96" width="42.95" height="28.82" fill="#0098DC"/>
<rect x="1641.25" y="1190.78" width="42.95" height="28.82" fill="#008ED6"/>
<rect x="1641.25" y="1218.6" width="42.95" height="28.82" fill="#0084D0"/>
<rect x="1641.25" y="1246.42" width="42.95" height="28.82" fill="#007ACA"/>
<rect x="1641.25" y="1274.24" width="42.95" height="28.82" fill="#0070C4"/>
<rect x="1641.25" y="1302.06" width="42.95" height="28.82" fill="#0066BB"/>
<rect x="1641.25" y="1329.88" width="42.95" height="28.82" fill="#005EB5"/>
<rect x="1641.25" y="1357.7" width="42.95" height="28.82" fill="#0555AD"/>
<rect x="1641.25" y="1385.52" width="42.95" height="28.82" fill="#1545A0"/>
<rect x="1641.25" y="1413.34" width="42.95" height="28.82" fill="#253C9C"/>
<rect x="1641.25" y="1441.16" width="42.95" height="28.82" fill="#2F3397"/>
<rect x="1641.25" y="1468.98" width="42.95" height="27.82" fill="#39268A"/>
</g>
<rect x="1641.25" y="912.8" width="42.95" height="584.3" fill="none" stroke="#000" stroke-width="4.2" stroke-linejoin="round"/>
<text transform="translate(1698.7 1515.8) scale(0.968 1.045)">0.00</text>
<text transform="translate(1698.7 1432.34) scale(0.968 1.045)">0.03</text>
<text transform="translate(1698.7 1348.88) scale(0.968 1.045)">0.06</text>
<text transform="translate(1698.7 1265.42) scale(0.968 1.045)">0.09</text>
<text transform="translate(1698.7 1181.96) scale(0.968 1.045)">0.12</text>
<text transform="translate(1698.7 1098.5) scale(0.968 1.045)">0.15</text>
<text transform="translate(1698.7 1015.04) scale(0.968 1.045)">0.18</text>
<text transform="translate(1619.2 1218.3) rotate(-90) scale(0.995 0.965)" text-anchor="middle">error</text></g>
</svg>
</body>
</html>
